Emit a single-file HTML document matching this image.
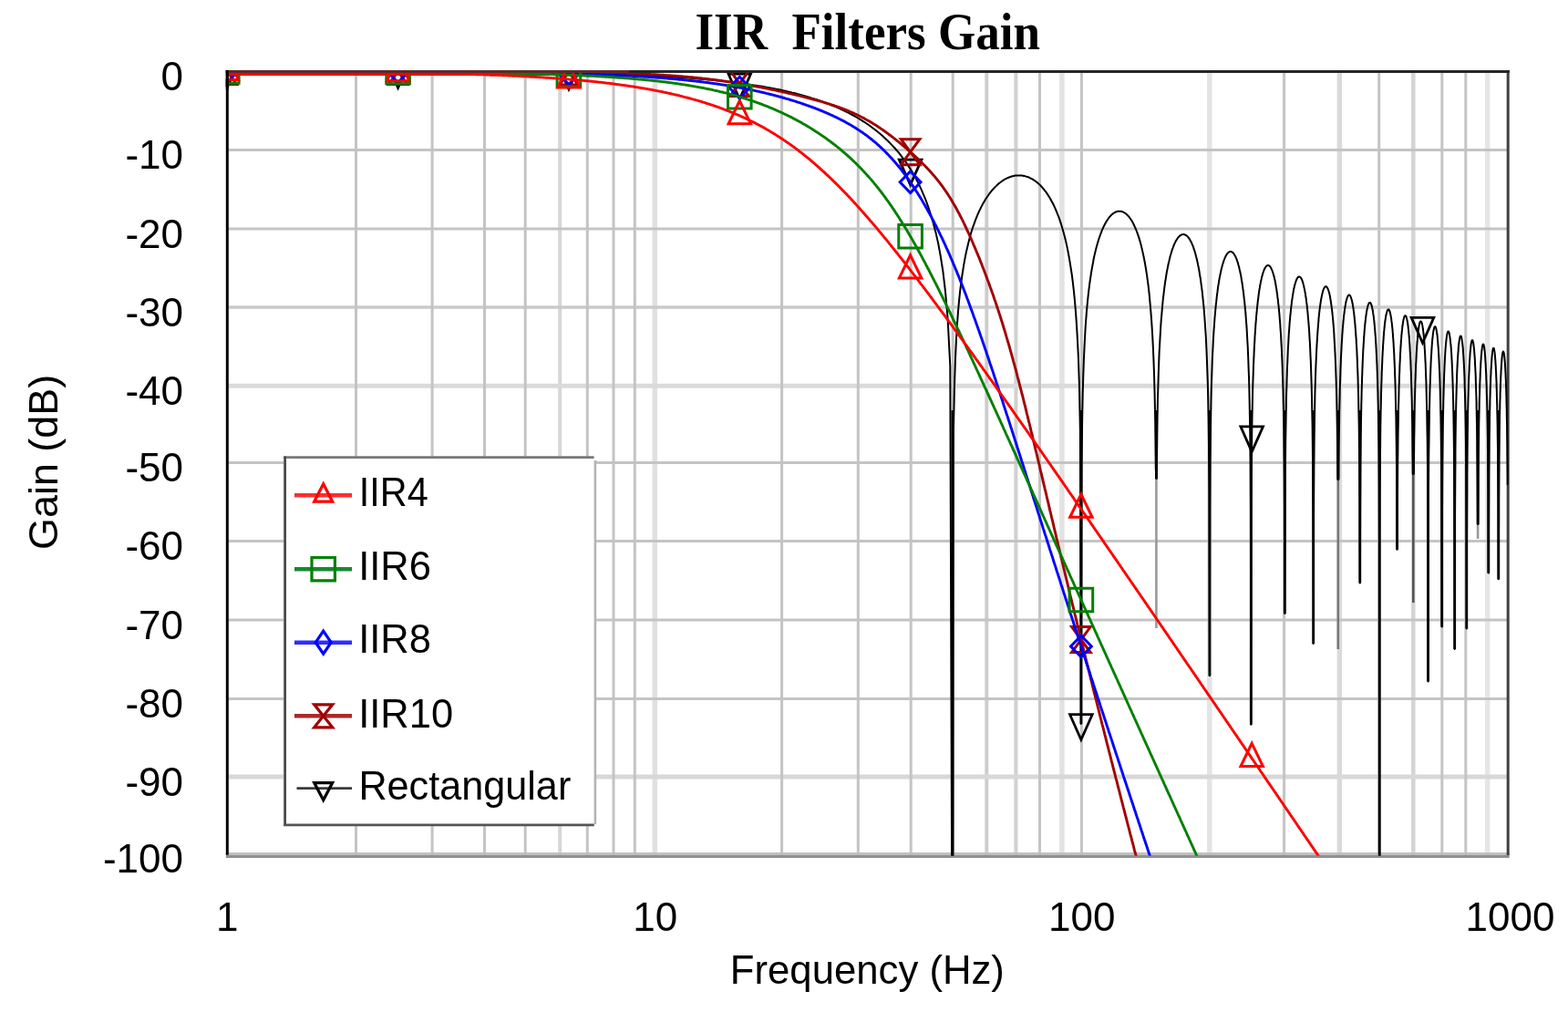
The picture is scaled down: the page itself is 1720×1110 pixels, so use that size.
<!DOCTYPE html>
<html><head><meta charset="utf-8"><title>IIR Filters Gain</title>
<style>
html,body{margin:0;padding:0;background:#fff;}
body{width:1720px;height:1110px;overflow:hidden;}
svg{display:block;}
text{font-family:"Liberation Sans",Arial,sans-serif;font-size:44px;fill:#000;}
.title{font-family:"Liberation Serif","Times New Roman",serif;font-weight:bold;font-size:56px;white-space:pre;}
</style></head><body>
<svg width="1720" height="1110" viewBox="0 0 1720 1110">
<defs><clipPath id="pc"><rect x="247.8" y="76.9" width="1407.9" height="861.5"/></clipPath></defs>
<rect width="1720" height="1110" fill="#fff"/>
<path d="M614.2,78.4 V937.9" stroke="#d6d6d6" stroke-width="4"/>
<path d="M718.3,78.4 V937.9" stroke="#e0e0e0" stroke-width="5.5"/>
<path d="M1082.3,78.4 V937.9" stroke="#cdcdcd" stroke-width="4"/>
<path d="M1114.4,78.4 V937.9" stroke="#d0d0d0" stroke-width="4"/>
<path d="M1164.9,78.4 V937.9" stroke="#e2e2e2" stroke-width="5.5"/>
<path d="M1326.8,78.4 V937.9" stroke="#e4e4e4" stroke-width="5.5"/>
<path d="M1469.4,78.4 V937.9" stroke="#dadada" stroke-width="5.5"/>
<path d="M1550.3,78.4 V937.9" stroke="#d4d4d4" stroke-width="4.5"/>
<path d="M1631.7,78.4 V937.9" stroke="#e6e6e6" stroke-width="5.5"/>
<path d="M249.3,337 H1654.2" stroke="#cacaca" stroke-width="3.6"/>
<path d="M249.3,423.3 H1654.2" stroke="#dadada" stroke-width="5"/>
<path d="M249.3,852.1 H1654.2" stroke="#d8d8d8" stroke-width="5"/>
<path d="M390.5,78.4 V937.9 M474.1,78.4 V937.9 M531.5,78.4 V937.9 M576.2,78.4 V937.9 M644.3,78.4 V937.9 M673,78.4 V937.9 M696.3,78.4 V937.9 M857.6,78.4 V937.9 M941.3,78.4 V937.9 M999.2,78.4 V937.9 M1045.2,78.4 V937.9 M1140.5,78.4 V937.9 M1186.4,78.4 V937.9 M1408.6,78.4 V937.9 M1512.7,78.4 V937.9 M1581.8,78.4 V937.9 M1607.8,78.4 V937.9 M249.3,164.5 H1654.2 M249.3,250.9 H1654.2 M249.3,507.4 H1654.2 M249.3,593.6 H1654.2 M249.3,680.1 H1654.2 M249.3,766.4 H1654.2" stroke="#c4c4c4" stroke-width="3" fill="none"/>
<path d="M247.8,936.4 H1655.7" stroke="#c0c0c0" stroke-width="2.8"/>
<path d="M247.8,939.3 H1655.7" stroke="#909090" stroke-width="3.2"/>
<path d="M1654.2,76.9 V937.9" stroke="#404040" stroke-width="3"/>
<path d="M247.8,78.4 H1655.7" stroke="#262626" stroke-width="3"/>
<path d="M249.3,76.9 V937.7" stroke="#000" stroke-width="3"/>
<g clip-path="url(#pc)" fill="none" stroke-linejoin="round">
<path d="M1044.9,450 V939.9" stroke="#000" stroke-width="2.8"/>
<path d="M1185.9,450 V793.9" stroke="#000" stroke-width="2.8"/>
<path d="M1268.4,450 V525" stroke="#000" stroke-width="2.8"/>
<path d="M1326.9,450 V741.2" stroke="#000" stroke-width="2.8"/>
<path d="M1372.3,450 V794.8" stroke="#000" stroke-width="2.8"/>
<path d="M1409.3,450 V673.1" stroke="#000" stroke-width="2.8"/>
<path d="M1440.7,450 V706" stroke="#000" stroke-width="2.8"/>
<path d="M1467.8,450 V526" stroke="#000" stroke-width="2.8"/>
<path d="M1491.8,450 V639.5" stroke="#000" stroke-width="2.8"/>
<path d="M1513.2,450 V939.9" stroke="#000" stroke-width="2.8"/>
<path d="M1532.6,450 V602.8" stroke="#000" stroke-width="2.8"/>
<path d="M1550.3,450 V520" stroke="#000" stroke-width="2.8"/>
<path d="M1566.6,450 V747.5" stroke="#000" stroke-width="2.8"/>
<path d="M1581.7,450 V687.6" stroke="#000" stroke-width="2.8"/>
<path d="M1595.7,450 V711.9" stroke="#000" stroke-width="2.8"/>
<path d="M1608.8,450 V689.5" stroke="#000" stroke-width="2.8"/>
<path d="M1621.1,450 V575" stroke="#000" stroke-width="2.8"/>
<path d="M1632.8,450 V628.6" stroke="#000" stroke-width="2.8"/>
<path d="M1643.8,450 V635.2" stroke="#000" stroke-width="2.8"/>
<path d="M1268.4,525 V689" stroke="#999" stroke-width="2.6"/>
<path d="M1467.8,526 V712" stroke="#777" stroke-width="2.6"/>
<path d="M1550.3,520 V661" stroke="#555" stroke-width="2.6"/>
<path d="M1621.1,575 V591" stroke="#999" stroke-width="2.6"/>
<path d="M249.3,78.4 L252,78.5 L254.6,78.5 L257.3,78.5 L259.9,78.5 L262.6,78.5 L265.3,78.5 L267.9,78.5 L270.6,78.5 L273.2,78.5 L275.9,78.5 L278.6,78.5 L281.2,78.5 L283.9,78.5 L286.6,78.5 L289.2,78.5 L291.9,78.5 L294.5,78.5 L297.2,78.5 L299.9,78.5 L302.5,78.5 L305.2,78.5 L307.8,78.5 L310.5,78.5 L313.2,78.5 L315.8,78.5 L318.5,78.5 L321.1,78.5 L323.8,78.5 L326.5,78.5 L329.1,78.5 L331.8,78.5 L334.5,78.5 L337.1,78.5 L339.8,78.5 L342.4,78.5 L345.1,78.5 L347.8,78.5 L350.4,78.5 L353.1,78.5 L355.7,78.5 L358.4,78.5 L361.1,78.5 L363.7,78.6 L366.4,78.6 L369,78.6 L371.7,78.6 L374.4,78.6 L377,78.6 L379.7,78.6 L382.3,78.6 L385,78.6 L387.7,78.6 L390.3,78.6 L393,78.6 L395.7,78.6 L398.3,78.6 L401,78.6 L403.6,78.6 L406.3,78.6 L409,78.6 L411.6,78.6 L414.3,78.6 L416.9,78.7 L419.6,78.7 L422.3,78.7 L424.9,78.7 L427.6,78.7 L430.2,78.7 L432.9,78.7 L435.6,78.7 L438.2,78.7 L440.9,78.7 L443.6,78.7 L446.2,78.7 L448.9,78.7 L451.5,78.8 L454.2,78.8 L456.9,78.8 L459.5,78.8 L462.2,78.8 L464.8,78.8 L467.5,78.8 L470.2,78.8 L472.8,78.8 L475.5,78.9 L478.1,78.9 L480.8,78.9 L483.5,78.9 L486.1,78.9 L488.8,78.9 L491.4,78.9 L494.1,78.9 L496.8,79 L499.4,79 L502.1,79 L504.8,79 L507.4,79 L510.1,79 L512.7,79.1 L515.4,79.1 L518.1,79.1 L520.7,79.1 L523.4,79.1 L526,79.1 L528.7,79.2 L531.4,79.2 L534,79.2 L536.7,79.2 L539.3,79.3 L542,79.3 L544.7,79.3 L547.3,79.3 L550,79.3 L552.6,79.4 L555.3,79.4 L558,79.4 L560.6,79.5 L563.3,79.5 L566,79.5 L568.6,79.5 L571.3,79.6 L573.9,79.6 L576.6,79.6 L579.3,79.7 L581.9,79.7 L584.6,79.7 L587.2,79.8 L589.9,79.8 L592.6,79.8 L595.2,79.9 L597.9,79.9 L600.5,80 L603.2,80 L605.9,80 L608.5,80.1 L611.2,80.1 L613.9,80.2 L616.5,80.2 L619.2,80.3 L621.8,80.3 L624.5,80.4 L627.2,80.4 L629.8,80.5 L632.5,80.5 L635.1,80.6 L637.8,80.7 L640.5,80.7 L643.1,80.8 L645.8,80.8 L648.4,80.9 L651.1,81 L653.8,81 L656.4,81.1 L659.1,81.2 L661.7,81.3 L664.4,81.3 L667.1,81.4 L669.7,81.5 L672.4,81.6 L675.1,81.7 L677.7,81.7 L680.4,81.8 L683,81.9 L685.7,82 L688.4,82.1 L691,82.2 L693.7,82.3 L696.3,82.4 L699,82.5 L701.7,82.6 L704.3,82.8 L707,82.9 L709.6,83 L712.3,83.1 L715,83.2 L717.6,83.4 L720.3,83.5 L723,83.7 L725.6,83.8 L728.3,83.9 L730.9,84.1 L733.6,84.2 L736.3,84.4 L738.9,84.6 L741.6,84.7 L744.2,84.9 L746.9,85.1 L749.6,85.3 L752.2,85.4 L754.9,85.6 L757.5,85.8 L760.2,86 L762.9,86.2 L765.5,86.4 L768.2,86.7 L770.8,86.9 L773.5,87.1 L776.2,87.4 L778.8,87.6 L781.5,87.8 L784.2,88.1 L786.8,88.4 L789.5,88.6 L792.1,88.9 L794.8,89.2 L797.5,89.5 L800.1,89.8 L802.8,90.1 L805.4,90.4 L808.1,90.8 L810.8,91.1 L813.4,91.5 L816.1,91.8 L818.7,92.2 L821.4,92.6 L824.1,93 L826.7,93.4 L829.4,93.8 L832.1,94.2 L834.7,94.6 L837.4,95.1 L840,95.6 L842.7,96 L845.4,96.5 L848,97 L850.7,97.6 L853.3,98.1 L856,98.6 L858.7,99.2 L861.3,99.8 L864,100.4 L866.6,101 L869.3,101.7 L872,102.3 L874.6,103 L877.3,103.7 L879.9,104.4 L882.6,105.2 L885.3,106 L887.9,106.8 L890.6,107.6 L893.3,108.4 L895.9,109.3 L898.6,110.2 L901.2,111.1 L903.9,112.1 L906.6,113.1 L909.2,114.1 L911.9,115.2 L914.5,116.3 L917.2,117.4 L919.9,118.6 L922.5,119.8 L925.2,121 L927.8,122.3 L930.5,123.7 L933.2,125.1 L935.8,126.5 L938.5,128 L941.2,129.5 L943.8,131.1 L946.5,132.8 L949.1,134.5 L951.8,136.3 L954.5,138.2 L957.1,140.2 L959.8,142.2 L962.4,144.3 L965.1,146.5 L967.8,148.8 L970.4,151.2 L973.1,153.7 L975.7,156.3 L978.4,159.1 L981.1,162 L983.7,165 L986.4,168.2 L989,171.6 L991.7,175.1 L994.4,178.9 L997,182.9 L999.7,187.1 L1002.4,191.6 L1005,196.5 L1007.7,201.6 L1010.3,207.2 L1013,213.3 L1015.7,219.9 L1018.3,227.2 L1021,235.2 L1023.6,244.2 L1026.3,254.4 L1029,266.1 L1031.6,280 L1034.3,297 L1036.9,318.8 L1039.6,349.5 L1042.3,401.7 L1044.9,1195.8 L1044.9,1195.8 L1045.9,474.3 L1047,422.8 L1048,392.7 L1049,371.4 L1050,355 L1051,341.6 L1052,330.3 L1053,320.6 L1054.1,312 L1055.1,304.4 L1056.1,297.6 L1057.1,291.3 L1058.1,285.6 L1059.1,280.4 L1060.1,275.5 L1061.2,271 L1062.2,266.7 L1063.2,262.8 L1064.2,259.1 L1065.2,255.5 L1066.2,252.2 L1067.2,249.1 L1068.3,246.1 L1069.3,243.3 L1070.3,240.6 L1071.3,238.1 L1072.3,235.6 L1073.3,233.3 L1074.3,231.1 L1075.4,229 L1076.4,226.9 L1077.4,225 L1078.4,223.1 L1079.4,221.4 L1080.4,219.7 L1081.4,218 L1082.5,216.5 L1083.5,215 L1084.5,213.5 L1085.5,212.2 L1086.5,210.8 L1087.5,209.6 L1088.5,208.4 L1089.6,207.2 L1090.6,206.1 L1091.6,205.1 L1092.6,204.1 L1093.6,203.1 L1094.6,202.2 L1095.6,201.3 L1096.7,200.5 L1097.7,199.7 L1098.7,199 L1099.7,198.3 L1100.7,197.6 L1101.7,197 L1102.7,196.4 L1103.8,195.9 L1104.8,195.4 L1105.8,195 L1106.8,194.5 L1107.8,194.2 L1108.8,193.8 L1109.8,193.5 L1110.8,193.2 L1111.9,193 L1112.9,192.8 L1113.9,192.6 L1114.9,192.5 L1115.9,192.4 L1116.9,192.4 L1117.9,192.4 L1119,192.4 L1120,192.5 L1121,192.6 L1122,192.7 L1123,192.9 L1124,193.1 L1125,193.4 L1126.1,193.7 L1127.1,194 L1128.1,194.4 L1129.1,194.8 L1130.1,195.3 L1131.1,195.8 L1132.1,196.3 L1133.2,196.9 L1134.2,197.6 L1135.2,198.3 L1136.2,199 L1137.2,199.8 L1138.2,200.6 L1139.2,201.5 L1140.3,202.4 L1141.3,203.4 L1142.3,204.5 L1143.3,205.6 L1144.3,206.8 L1145.3,208 L1146.3,209.3 L1147.4,210.7 L1148.4,212.1 L1149.4,213.6 L1150.4,215.2 L1151.4,216.8 L1152.4,218.6 L1153.4,220.4 L1154.5,222.3 L1155.5,224.3 L1156.5,226.4 L1157.5,228.6 L1158.5,231 L1159.5,233.4 L1160.5,236 L1161.6,238.7 L1162.6,241.6 L1163.6,244.6 L1164.6,247.8 L1165.6,251.2 L1166.6,254.8 L1167.6,258.6 L1168.7,262.7 L1169.7,267.1 L1170.7,271.7 L1171.7,276.8 L1172.7,282.2 L1173.7,288.1 L1174.7,294.5 L1175.8,301.5 L1176.8,309.4 L1177.8,318.2 L1178.8,328.1 L1179.8,339.7 L1180.8,353.4 L1181.8,370.1 L1182.9,391.7 L1183.9,422.1 L1184.9,474 L1185.9,793.9 L1185.9,793.9 L1186.5,514.3 L1187.1,462.7 L1187.7,432.5 L1188.3,411.2 L1188.9,394.7 L1189.5,381.2 L1190.1,369.9 L1190.6,360.1 L1191.2,351.5 L1191.8,343.8 L1192.4,336.9 L1193,330.6 L1193.6,324.8 L1194.2,319.5 L1194.8,314.6 L1195.4,310 L1196,305.8 L1196.6,301.8 L1197.2,298 L1197.8,294.5 L1198.4,291.1 L1199,288 L1199.5,285 L1200.1,282.1 L1200.7,279.4 L1201.3,276.8 L1201.9,274.4 L1202.5,272 L1203.1,269.8 L1203.7,267.7 L1204.3,265.6 L1204.9,263.7 L1205.5,261.8 L1206.1,260 L1206.7,258.3 L1207.3,256.7 L1207.9,255.1 L1208.4,253.6 L1209,252.2 L1209.6,250.8 L1210.2,249.5 L1210.8,248.2 L1211.4,247 L1212,245.9 L1212.6,244.8 L1213.2,243.7 L1213.8,242.7 L1214.4,241.8 L1215,240.9 L1215.6,240 L1216.2,239.2 L1216.7,238.5 L1217.3,237.7 L1217.9,237.1 L1218.5,236.4 L1219.1,235.8 L1219.7,235.3 L1220.3,234.8 L1220.9,234.3 L1221.5,233.9 L1222.1,233.5 L1222.7,233.1 L1223.3,232.8 L1223.9,232.5 L1224.5,232.3 L1225.1,232.1 L1225.6,231.9 L1226.2,231.8 L1226.8,231.7 L1227.4,231.7 L1228,231.7 L1228.6,231.7 L1229.2,231.7 L1229.8,231.8 L1230.4,232 L1231,232.2 L1231.6,232.4 L1232.2,232.6 L1232.8,232.9 L1233.4,233.3 L1234,233.6 L1234.5,234.1 L1235.1,234.5 L1235.7,235 L1236.3,235.6 L1236.9,236.2 L1237.5,236.8 L1238.1,237.5 L1238.7,238.2 L1239.3,239 L1239.9,239.8 L1240.5,240.7 L1241.1,241.6 L1241.7,242.6 L1242.3,243.6 L1242.9,244.7 L1243.4,245.8 L1244,247 L1244.6,248.3 L1245.2,249.6 L1245.8,251 L1246.4,252.5 L1247,254 L1247.6,255.6 L1248.2,257.3 L1248.8,259.1 L1249.4,260.9 L1250,262.9 L1250.6,264.9 L1251.2,267 L1251.8,269.3 L1252.3,271.6 L1252.9,274.1 L1253.5,276.7 L1254.1,279.4 L1254.7,282.3 L1255.3,285.3 L1255.9,288.5 L1256.5,291.9 L1257.1,295.5 L1257.7,299.3 L1258.3,303.4 L1258.9,307.8 L1259.5,312.4 L1260.1,317.4 L1260.7,322.8 L1261.2,328.7 L1261.8,335.1 L1262.4,342.1 L1263,349.9 L1263.6,358.7 L1264.2,368.6 L1264.8,380.1 L1265.4,393.7 L1266,410.4 L1266.6,431.9 L1267.2,462.2 L1267.8,514.1 L1268.4,525 L1268.4,525 L1268.8,525 L1269.2,488.2 L1269.6,458.1 L1270,436.7 L1270.5,420.1 L1270.9,406.7 L1271.3,395.3 L1271.7,385.5 L1272.2,376.8 L1272.6,369.2 L1273,362.2 L1273.4,355.9 L1273.8,350.1 L1274.3,344.8 L1274.7,339.9 L1275.1,335.3 L1275.5,331 L1275.9,327 L1276.4,323.2 L1276.8,319.7 L1277.2,316.3 L1277.6,313.1 L1278,310.1 L1278.5,307.3 L1278.9,304.6 L1279.3,302 L1279.7,299.5 L1280.1,297.2 L1280.6,294.9 L1281,292.8 L1281.4,290.7 L1281.8,288.8 L1282.3,286.9 L1282.7,285.1 L1283.1,283.4 L1283.5,281.8 L1283.9,280.2 L1284.4,278.7 L1284.8,277.3 L1285.2,275.9 L1285.6,274.6 L1286,273.3 L1286.5,272.1 L1286.9,271 L1287.3,269.9 L1287.7,268.9 L1288.1,267.9 L1288.6,266.9 L1289,266.1 L1289.4,265.2 L1289.8,264.4 L1290.3,263.7 L1290.7,262.9 L1291.1,262.3 L1291.5,261.7 L1291.9,261.1 L1292.4,260.5 L1292.8,260 L1293.2,259.6 L1293.6,259.2 L1294,258.8 L1294.5,258.4 L1294.9,258.1 L1295.3,257.9 L1295.7,257.6 L1296.1,257.4 L1296.6,257.3 L1297,257.2 L1297.4,257.1 L1297.8,257.1 L1298.2,257.1 L1298.7,257.1 L1299.1,257.2 L1299.5,257.3 L1299.9,257.5 L1300.4,257.7 L1300.8,257.9 L1301.2,258.2 L1301.6,258.5 L1302,258.8 L1302.5,259.2 L1302.9,259.7 L1303.3,260.1 L1303.7,260.7 L1304.1,261.2 L1304.6,261.8 L1305,262.5 L1305.4,263.2 L1305.8,263.9 L1306.2,264.7 L1306.7,265.5 L1307.1,266.4 L1307.5,267.4 L1307.9,268.3 L1308.4,269.4 L1308.8,270.5 L1309.2,271.6 L1309.6,272.9 L1310,274.1 L1310.5,275.5 L1310.9,276.9 L1311.3,278.3 L1311.7,279.9 L1312.1,281.5 L1312.6,283.2 L1313,285 L1313.4,286.8 L1313.8,288.8 L1314.2,290.8 L1314.7,293 L1315.1,295.2 L1315.5,297.5 L1315.9,300 L1316.3,302.6 L1316.8,305.3 L1317.2,308.2 L1317.6,311.3 L1318,314.5 L1318.5,317.9 L1318.9,321.5 L1319.3,325.3 L1319.7,329.3 L1320.1,333.7 L1320.6,338.3 L1321,343.3 L1321.4,348.7 L1321.8,354.5 L1322.2,360.9 L1322.7,367.9 L1323.1,375.7 L1323.5,384.5 L1323.9,394.4 L1324.3,405.9 L1324.8,419.5 L1325.2,436.1 L1325.6,457.6 L1326,487.9 L1326.5,539.7 L1326.9,741.2 L1326.9,741.2 L1327.2,558.8 L1327.5,507.2 L1327.9,477 L1328.2,455.6 L1328.5,439 L1328.8,425.5 L1329.2,414.2 L1329.5,404.3 L1329.8,395.7 L1330.1,388 L1330.5,381 L1330.8,374.7 L1331.1,368.9 L1331.4,363.6 L1331.8,358.7 L1332.1,354.1 L1332.4,349.8 L1332.7,345.8 L1333.1,342 L1333.4,338.4 L1333.7,335.1 L1334.1,331.9 L1334.4,328.9 L1334.7,326 L1335,323.3 L1335.4,320.7 L1335.7,318.2 L1336,315.9 L1336.3,313.6 L1336.7,311.5 L1337,309.4 L1337.3,307.5 L1337.6,305.6 L1338,303.8 L1338.3,302.1 L1338.6,300.5 L1339,298.9 L1339.3,297.4 L1339.6,296 L1339.9,294.6 L1340.3,293.3 L1340.6,292 L1340.9,290.9 L1341.2,289.7 L1341.6,288.6 L1341.9,287.6 L1342.2,286.6 L1342.5,285.7 L1342.9,284.8 L1343.2,284 L1343.5,283.2 L1343.9,282.4 L1344.2,281.7 L1344.5,281 L1344.8,280.4 L1345.2,279.9 L1345.5,279.3 L1345.8,278.8 L1346.1,278.4 L1346.5,278 L1346.8,277.6 L1347.1,277.3 L1347.4,277 L1347.8,276.7 L1348.1,276.5 L1348.4,276.3 L1348.7,276.2 L1349.1,276.1 L1349.4,276 L1349.7,276 L1350.1,276 L1350.4,276 L1350.7,276.1 L1351,276.2 L1351.4,276.4 L1351.7,276.6 L1352,276.8 L1352.3,277.1 L1352.7,277.4 L1353,277.8 L1353.3,278.2 L1353.6,278.6 L1354,279.1 L1354.3,279.7 L1354.6,280.2 L1355,280.8 L1355.3,281.5 L1355.6,282.2 L1355.9,282.9 L1356.3,283.7 L1356.6,284.6 L1356.9,285.5 L1357.2,286.4 L1357.6,287.4 L1357.9,288.5 L1358.2,289.6 L1358.5,290.7 L1358.9,292 L1359.2,293.2 L1359.5,294.6 L1359.8,296 L1360.2,297.5 L1360.5,299 L1360.8,300.6 L1361.2,302.3 L1361.5,304.1 L1361.8,306 L1362.1,307.9 L1362.5,310 L1362.8,312.1 L1363.1,314.3 L1363.4,316.7 L1363.8,319.2 L1364.1,321.8 L1364.4,324.5 L1364.7,327.4 L1365.1,330.4 L1365.4,333.6 L1365.7,337 L1366.1,340.6 L1366.4,344.4 L1366.7,348.5 L1367,352.8 L1367.4,357.4 L1367.7,362.4 L1368,367.8 L1368.3,373.7 L1368.7,380 L1369,387 L1369.3,394.8 L1369.6,403.5 L1370,413.5 L1370.3,424.9 L1370.6,438.5 L1370.9,455.2 L1371.3,476.6 L1371.6,506.9 L1371.9,558.7 L1372.3,794.8 L1372.3,794.8 L1372.5,573.9 L1372.8,522.2 L1373.1,492 L1373.3,470.6 L1373.6,454.1 L1373.9,440.6 L1374.1,429.2 L1374.4,419.3 L1374.7,410.7 L1374.9,403 L1375.2,396 L1375.5,389.7 L1375.7,383.9 L1376,378.6 L1376.3,373.6 L1376.5,369 L1376.8,364.7 L1377.1,360.7 L1377.3,356.9 L1377.6,353.4 L1377.9,350 L1378.1,346.8 L1378.4,343.8 L1378.7,340.9 L1378.9,338.2 L1379.2,335.6 L1379.5,333.1 L1379.7,330.8 L1380,328.5 L1380.3,326.4 L1380.5,324.4 L1380.8,322.4 L1381.1,320.5 L1381.3,318.7 L1381.6,317 L1381.9,315.4 L1382.1,313.8 L1382.4,312.3 L1382.7,310.9 L1382.9,309.5 L1383.2,308.2 L1383.5,307 L1383.7,305.8 L1384,304.7 L1384.3,303.6 L1384.5,302.5 L1384.8,301.6 L1385.1,300.6 L1385.3,299.7 L1385.6,298.9 L1385.9,298.1 L1386.1,297.4 L1386.4,296.7 L1386.7,296 L1386.9,295.4 L1387.2,294.8 L1387.5,294.3 L1387.7,293.8 L1388,293.4 L1388.3,293 L1388.5,292.6 L1388.8,292.3 L1389.1,292 L1389.3,291.7 L1389.6,291.5 L1389.9,291.3 L1390.1,291.2 L1390.4,291.1 L1390.7,291 L1390.9,291 L1391.2,291 L1391.5,291.1 L1391.7,291.2 L1392,291.3 L1392.3,291.5 L1392.5,291.7 L1392.8,291.9 L1393.1,292.2 L1393.3,292.5 L1393.6,292.9 L1393.9,293.3 L1394.1,293.7 L1394.4,294.2 L1394.7,294.8 L1394.9,295.3 L1395.2,296 L1395.5,296.6 L1395.7,297.3 L1396,298.1 L1396.3,298.9 L1396.5,299.7 L1396.8,300.6 L1397.1,301.6 L1397.3,302.6 L1397.6,303.6 L1397.9,304.7 L1398.1,305.9 L1398.4,307.1 L1398.7,308.4 L1398.9,309.8 L1399.2,311.2 L1399.5,312.7 L1399.7,314.2 L1400,315.8 L1400.3,317.5 L1400.5,319.3 L1400.8,321.2 L1401.1,323.1 L1401.3,325.2 L1401.6,327.3 L1401.9,329.5 L1402.1,331.9 L1402.4,334.4 L1402.7,337 L1402.9,339.7 L1403.2,342.6 L1403.5,345.6 L1403.7,348.8 L1404,352.2 L1404.3,355.8 L1404.5,359.6 L1404.8,363.7 L1405.1,368 L1405.3,372.6 L1405.6,377.6 L1405.9,383 L1406.1,388.8 L1406.4,395.2 L1406.7,402.2 L1406.9,410 L1407.2,418.7 L1407.5,428.6 L1407.7,440.1 L1408,453.6 L1408.3,470.3 L1408.5,491.8 L1408.8,522 L1409.1,573.8 L1409.3,673.1 L1409.3,673.1 L1409.6,586.4 L1409.8,534.7 L1410,504.5 L1410.2,483.1 L1410.5,466.6 L1410.7,453.1 L1410.9,441.7 L1411.1,431.8 L1411.4,423.2 L1411.6,415.4 L1411.8,408.5 L1412,402.2 L1412.3,396.4 L1412.5,391 L1412.7,386.1 L1412.9,381.5 L1413.2,377.2 L1413.4,373.1 L1413.6,369.4 L1413.8,365.8 L1414.1,362.4 L1414.3,359.2 L1414.5,356.2 L1414.7,353.4 L1415,350.6 L1415.2,348 L1415.4,345.6 L1415.7,343.2 L1415.9,341 L1416.1,338.8 L1416.3,336.8 L1416.6,334.8 L1416.8,333 L1417,331.2 L1417.2,329.5 L1417.5,327.8 L1417.7,326.3 L1417.9,324.8 L1418.1,323.3 L1418.4,322 L1418.6,320.7 L1418.8,319.4 L1419,318.2 L1419.3,317.1 L1419.5,316 L1419.7,315 L1419.9,314 L1420.2,313.1 L1420.4,312.2 L1420.6,311.4 L1420.8,310.6 L1421.1,309.8 L1421.3,309.1 L1421.5,308.5 L1421.7,307.9 L1422,307.3 L1422.2,306.8 L1422.4,306.3 L1422.6,305.8 L1422.9,305.4 L1423.1,305.1 L1423.3,304.7 L1423.5,304.4 L1423.8,304.2 L1424,304 L1424.2,303.8 L1424.4,303.7 L1424.7,303.6 L1424.9,303.5 L1425.1,303.5 L1425.3,303.5 L1425.6,303.6 L1425.8,303.7 L1426,303.8 L1426.3,304 L1426.5,304.2 L1426.7,304.4 L1426.9,304.7 L1427.2,305.1 L1427.4,305.4 L1427.6,305.8 L1427.8,306.3 L1428.1,306.8 L1428.3,307.3 L1428.5,307.9 L1428.7,308.5 L1429,309.2 L1429.2,309.9 L1429.4,310.7 L1429.6,311.5 L1429.9,312.3 L1430.1,313.2 L1430.3,314.2 L1430.5,315.2 L1430.8,316.2 L1431,317.3 L1431.2,318.5 L1431.4,319.7 L1431.7,321 L1431.9,322.4 L1432.1,323.8 L1432.3,325.3 L1432.6,326.8 L1432.8,328.4 L1433,330.1 L1433.2,331.9 L1433.5,333.8 L1433.7,335.7 L1433.9,337.8 L1434.1,339.9 L1434.4,342.2 L1434.6,344.5 L1434.8,347 L1435,349.6 L1435.3,352.3 L1435.5,355.2 L1435.7,358.2 L1436,361.4 L1436.2,364.8 L1436.4,368.4 L1436.6,372.2 L1436.9,376.3 L1437.1,380.6 L1437.3,385.2 L1437.5,390.2 L1437.8,395.6 L1438,401.4 L1438.2,407.8 L1438.4,414.8 L1438.7,422.6 L1438.9,431.3 L1439.1,441.2 L1439.3,452.6 L1439.6,466.2 L1439.8,482.8 L1440,504.3 L1440.2,534.6 L1440.5,586.3 L1440.7,706 L1440.7,706 L1440.9,597.1 L1441.1,545.4 L1441.3,515.2 L1441.5,493.8 L1441.7,477.3 L1441.9,463.7 L1442.1,452.3 L1442.3,442.5 L1442.4,433.8 L1442.6,426.1 L1442.8,419.2 L1443,412.8 L1443.2,407 L1443.4,401.7 L1443.6,396.7 L1443.8,392.1 L1444,387.8 L1444.2,383.8 L1444.4,380 L1444.6,376.4 L1444.8,373.1 L1445,369.9 L1445.2,366.9 L1445.4,364 L1445.6,361.3 L1445.8,358.7 L1446,356.2 L1446.2,353.9 L1446.4,351.6 L1446.5,349.5 L1446.7,347.4 L1446.9,345.5 L1447.1,343.6 L1447.3,341.8 L1447.5,340.1 L1447.7,338.5 L1447.9,336.9 L1448.1,335.4 L1448.3,334 L1448.5,332.6 L1448.7,331.3 L1448.9,330.1 L1449.1,328.9 L1449.3,327.7 L1449.5,326.7 L1449.7,325.6 L1449.9,324.7 L1450.1,323.7 L1450.3,322.8 L1450.5,322 L1450.7,321.2 L1450.8,320.5 L1451,319.8 L1451.2,319.1 L1451.4,318.5 L1451.6,318 L1451.8,317.4 L1452,317 L1452.2,316.5 L1452.4,316.1 L1452.6,315.7 L1452.8,315.4 L1453,315.1 L1453.2,314.9 L1453.4,314.7 L1453.6,314.5 L1453.8,314.4 L1454,314.3 L1454.2,314.2 L1454.4,314.2 L1454.6,314.2 L1454.8,314.3 L1454.9,314.4 L1455.1,314.5 L1455.3,314.7 L1455.5,314.9 L1455.7,315.2 L1455.9,315.5 L1456.1,315.8 L1456.3,316.2 L1456.5,316.6 L1456.7,317 L1456.9,317.5 L1457.1,318.1 L1457.3,318.6 L1457.5,319.3 L1457.7,319.9 L1457.9,320.6 L1458.1,321.4 L1458.3,322.2 L1458.5,323.1 L1458.7,324 L1458.9,324.9 L1459.1,325.9 L1459.2,327 L1459.4,328.1 L1459.6,329.3 L1459.8,330.5 L1460,331.8 L1460.2,333.1 L1460.4,334.6 L1460.6,336 L1460.8,337.6 L1461,339.2 L1461.2,340.9 L1461.4,342.7 L1461.6,344.6 L1461.8,346.5 L1462,348.6 L1462.2,350.7 L1462.4,352.9 L1462.6,355.3 L1462.8,357.8 L1463,360.4 L1463.2,363.1 L1463.4,366 L1463.5,369 L1463.7,372.2 L1463.9,375.6 L1464.1,379.2 L1464.3,383 L1464.5,387 L1464.7,391.4 L1464.9,396 L1465.1,401 L1465.3,406.4 L1465.5,412.2 L1465.7,418.6 L1465.9,425.6 L1466.1,433.3 L1466.3,442 L1466.5,451.9 L1466.7,463.4 L1466.9,476.9 L1467.1,493.6 L1467.3,515 L1467.5,526 L1467.6,526 L1467.8,526 L1467.8,526 L1468,526 L1468.2,526 L1468.4,524.6 L1468.5,503.2 L1468.7,486.6 L1468.9,473.1 L1469.1,461.7 L1469.2,451.8 L1469.4,443.2 L1469.6,435.5 L1469.7,428.5 L1469.9,422.2 L1470.1,416.4 L1470.3,411 L1470.4,406.1 L1470.6,401.5 L1470.8,397.1 L1470.9,393.1 L1471.1,389.3 L1471.3,385.8 L1471.5,382.4 L1471.6,379.2 L1471.8,376.2 L1472,373.3 L1472.2,370.6 L1472.3,368 L1472.5,365.5 L1472.7,363.2 L1472.8,360.9 L1473,358.8 L1473.2,356.7 L1473.4,354.8 L1473.5,352.9 L1473.7,351.1 L1473.9,349.4 L1474,347.8 L1474.2,346.2 L1474.4,344.7 L1474.6,343.3 L1474.7,341.9 L1474.9,340.6 L1475.1,339.4 L1475.3,338.2 L1475.4,337.1 L1475.6,336 L1475.8,334.9 L1475.9,334 L1476.1,333 L1476.3,332.2 L1476.5,331.3 L1476.6,330.6 L1476.8,329.8 L1477,329.1 L1477.2,328.5 L1477.3,327.9 L1477.5,327.3 L1477.7,326.8 L1477.8,326.3 L1478,325.9 L1478.2,325.4 L1478.4,325.1 L1478.5,324.8 L1478.7,324.5 L1478.9,324.2 L1479,324 L1479.2,323.9 L1479.4,323.7 L1479.6,323.6 L1479.7,323.6 L1479.9,323.6 L1480.1,323.6 L1480.3,323.7 L1480.4,323.8 L1480.6,323.9 L1480.8,324.1 L1480.9,324.3 L1481.1,324.5 L1481.3,324.8 L1481.5,325.2 L1481.6,325.5 L1481.8,326 L1482,326.4 L1482.1,326.9 L1482.3,327.5 L1482.5,328 L1482.7,328.7 L1482.8,329.3 L1483,330 L1483.2,330.8 L1483.4,331.6 L1483.5,332.5 L1483.7,333.4 L1483.9,334.3 L1484,335.3 L1484.2,336.4 L1484.4,337.5 L1484.6,338.7 L1484.7,339.9 L1484.9,341.2 L1485.1,342.5 L1485.3,344 L1485.4,345.4 L1485.6,347 L1485.8,348.6 L1485.9,350.3 L1486.1,352.1 L1486.3,354 L1486.5,355.9 L1486.6,358 L1486.8,360.1 L1487,362.4 L1487.1,364.7 L1487.3,367.2 L1487.5,369.8 L1487.7,372.5 L1487.8,375.4 L1488,378.4 L1488.2,381.6 L1488.4,385 L1488.5,388.6 L1488.7,392.4 L1488.9,396.5 L1489,400.8 L1489.2,405.4 L1489.4,410.4 L1489.6,415.8 L1489.7,421.6 L1489.9,428 L1490.1,435 L1490.2,442.7 L1490.4,451.4 L1490.6,461.3 L1490.8,472.8 L1490.9,486.3 L1491.1,503 L1491.3,524.4 L1491.5,554.7 L1491.6,606.4 L1491.8,639.5 L1491.8,639.5 L1492,614.8 L1492.1,563.1 L1492.3,532.9 L1492.4,511.5 L1492.6,494.9 L1492.7,481.4 L1492.9,470 L1493,460.1 L1493.2,451.5 L1493.3,443.7 L1493.5,436.8 L1493.6,430.4 L1493.8,424.6 L1494,419.3 L1494.1,414.3 L1494.3,409.7 L1494.4,405.4 L1494.6,401.4 L1494.7,397.6 L1494.9,394 L1495,390.7 L1495.2,387.5 L1495.3,384.5 L1495.5,381.6 L1495.7,378.9 L1495.8,376.3 L1496,373.8 L1496.1,371.4 L1496.3,369.2 L1496.4,367.1 L1496.6,365 L1496.7,363 L1496.9,361.2 L1497,359.4 L1497.2,357.7 L1497.3,356 L1497.5,354.5 L1497.7,353 L1497.8,351.6 L1498,350.2 L1498.1,348.9 L1498.3,347.6 L1498.4,346.5 L1498.6,345.3 L1498.7,344.3 L1498.9,343.2 L1499,342.3 L1499.2,341.3 L1499.4,340.5 L1499.5,339.6 L1499.7,338.8 L1499.8,338.1 L1500,337.4 L1500.1,336.8 L1500.3,336.2 L1500.4,335.6 L1500.6,335.1 L1500.7,334.6 L1500.9,334.1 L1501,333.7 L1501.2,333.4 L1501.4,333.1 L1501.5,332.8 L1501.7,332.5 L1501.8,332.3 L1502,332.2 L1502.1,332 L1502.3,332 L1502.4,331.9 L1502.6,331.9 L1502.7,331.9 L1502.9,332 L1503.1,332.1 L1503.2,332.2 L1503.4,332.4 L1503.5,332.6 L1503.7,332.9 L1503.8,333.2 L1504,333.5 L1504.1,333.9 L1504.3,334.3 L1504.4,334.7 L1504.6,335.2 L1504.7,335.8 L1504.9,336.4 L1505.1,337 L1505.2,337.7 L1505.4,338.4 L1505.5,339.1 L1505.7,340 L1505.8,340.8 L1506,341.7 L1506.1,342.7 L1506.3,343.7 L1506.4,344.7 L1506.6,345.9 L1506.8,347 L1506.9,348.3 L1507.1,349.6 L1507.2,350.9 L1507.4,352.3 L1507.5,353.8 L1507.7,355.4 L1507.8,357 L1508,358.7 L1508.1,360.5 L1508.3,362.3 L1508.4,364.3 L1508.6,366.3 L1508.8,368.5 L1508.9,370.7 L1509.1,373.1 L1509.2,375.6 L1509.4,378.1 L1509.5,380.9 L1509.7,383.8 L1509.8,386.8 L1510,390 L1510.1,393.4 L1510.3,397 L1510.5,400.8 L1510.6,404.8 L1510.8,409.1 L1510.9,413.8 L1511.1,418.7 L1511.2,424.1 L1511.4,429.9 L1511.5,436.3 L1511.7,443.3 L1511.8,451.1 L1512,459.8 L1512.1,469.7 L1512.3,481.1 L1512.5,494.7 L1512.6,511.3 L1512.8,532.7 L1512.9,563 L1513.1,614.8 L1513.2,1195.8 L1513.2,1195.8 L1513.4,622.3 L1513.5,570.6 L1513.6,540.4 L1513.8,519 L1513.9,502.4 L1514.1,488.9 L1514.2,477.5 L1514.3,467.6 L1514.5,458.9 L1514.6,451.2 L1514.8,444.2 L1514.9,437.9 L1515,432.1 L1515.2,426.8 L1515.3,421.8 L1515.5,417.2 L1515.6,412.9 L1515.7,408.9 L1515.9,405.1 L1516,401.5 L1516.2,398.1 L1516.3,394.9 L1516.4,391.9 L1516.6,389 L1516.7,386.3 L1516.9,383.7 L1517,381.2 L1517.1,378.9 L1517.3,376.6 L1517.4,374.5 L1517.6,372.5 L1517.7,370.5 L1517.8,368.6 L1518,366.8 L1518.1,365.1 L1518.2,363.5 L1518.4,361.9 L1518.5,360.4 L1518.7,359 L1518.8,357.6 L1518.9,356.3 L1519.1,355.1 L1519.2,353.9 L1519.4,352.8 L1519.5,351.7 L1519.6,350.7 L1519.8,349.7 L1519.9,348.8 L1520.1,347.9 L1520.2,347.1 L1520.3,346.3 L1520.5,345.6 L1520.6,344.9 L1520.8,344.2 L1520.9,343.6 L1521,343.1 L1521.2,342.5 L1521.3,342.1 L1521.5,341.6 L1521.6,341.2 L1521.7,340.9 L1521.9,340.5 L1522,340.3 L1522.2,340 L1522.3,339.8 L1522.4,339.6 L1522.6,339.5 L1522.7,339.4 L1522.9,339.4 L1523,339.4 L1523.1,339.4 L1523.3,339.5 L1523.4,339.6 L1523.5,339.7 L1523.7,339.9 L1523.8,340.1 L1524,340.4 L1524.1,340.7 L1524.2,341 L1524.4,341.4 L1524.5,341.8 L1524.7,342.2 L1524.8,342.7 L1524.9,343.3 L1525.1,343.9 L1525.2,344.5 L1525.4,345.2 L1525.5,345.9 L1525.6,346.6 L1525.8,347.5 L1525.9,348.3 L1526.1,349.2 L1526.2,350.2 L1526.3,351.2 L1526.5,352.3 L1526.6,353.4 L1526.8,354.5 L1526.9,355.8 L1527,357.1 L1527.2,358.4 L1527.3,359.8 L1527.5,361.3 L1527.6,362.9 L1527.7,364.5 L1527.9,366.2 L1528,368 L1528.1,369.8 L1528.3,371.8 L1528.4,373.8 L1528.6,376 L1528.7,378.2 L1528.8,380.6 L1529,383.1 L1529.1,385.7 L1529.3,388.4 L1529.4,391.3 L1529.5,394.3 L1529.7,397.5 L1529.8,400.9 L1530,404.5 L1530.1,408.3 L1530.2,412.3 L1530.4,416.6 L1530.5,421.3 L1530.7,426.3 L1530.8,431.6 L1530.9,437.5 L1531.1,443.8 L1531.2,450.8 L1531.4,458.6 L1531.5,467.3 L1531.6,477.2 L1531.8,488.6 L1531.9,502.2 L1532.1,518.8 L1532.2,540.2 L1532.3,570.5 L1532.5,602.8 L1532.6,602.8 L1532.6,602.8 L1532.7,602.8 L1532.9,577.4 L1533,547.2 L1533.1,525.8 L1533.2,509.2 L1533.4,495.7 L1533.5,484.2 L1533.6,474.4 L1533.8,465.7 L1533.9,458 L1534,451 L1534.1,444.7 L1534.3,438.9 L1534.4,433.5 L1534.5,428.6 L1534.6,424 L1534.8,419.7 L1534.9,415.6 L1535,411.8 L1535.2,408.3 L1535.3,404.9 L1535.4,401.7 L1535.5,398.7 L1535.7,395.8 L1535.8,393.1 L1535.9,390.5 L1536,388 L1536.2,385.7 L1536.3,383.4 L1536.4,381.3 L1536.6,379.2 L1536.7,377.3 L1536.8,375.4 L1536.9,373.6 L1537.1,371.9 L1537.2,370.3 L1537.3,368.7 L1537.4,367.2 L1537.6,365.8 L1537.7,364.4 L1537.8,363.1 L1538,361.9 L1538.1,360.7 L1538.2,359.6 L1538.3,358.5 L1538.5,357.5 L1538.6,356.5 L1538.7,355.6 L1538.9,354.7 L1539,353.9 L1539.1,353.1 L1539.2,352.3 L1539.4,351.7 L1539.5,351 L1539.6,350.4 L1539.7,349.8 L1539.9,349.3 L1540,348.8 L1540.1,348.4 L1540.3,348 L1540.4,347.6 L1540.5,347.3 L1540.6,347 L1540.8,346.8 L1540.9,346.6 L1541,346.4 L1541.1,346.3 L1541.3,346.2 L1541.4,346.2 L1541.5,346.2 L1541.7,346.2 L1541.8,346.3 L1541.9,346.4 L1542,346.5 L1542.2,346.7 L1542.3,346.9 L1542.4,347.2 L1542.5,347.5 L1542.7,347.8 L1542.8,348.2 L1542.9,348.6 L1543.1,349.1 L1543.2,349.6 L1543.3,350.1 L1543.4,350.7 L1543.6,351.3 L1543.7,352 L1543.8,352.7 L1543.9,353.5 L1544.1,354.3 L1544.2,355.1 L1544.3,356 L1544.5,357 L1544.6,358 L1544.7,359.1 L1544.8,360.2 L1545,361.4 L1545.1,362.6 L1545.2,363.9 L1545.3,365.2 L1545.5,366.7 L1545.6,368.1 L1545.7,369.7 L1545.9,371.3 L1546,373 L1546.1,374.8 L1546.2,376.7 L1546.4,378.6 L1546.5,380.7 L1546.6,382.8 L1546.7,385.1 L1546.9,387.4 L1547,389.9 L1547.1,392.5 L1547.3,395.2 L1547.4,398.1 L1547.5,401.1 L1547.6,404.3 L1547.8,407.7 L1547.9,411.3 L1548,415.1 L1548.1,419.2 L1548.3,423.5 L1548.4,428.1 L1548.5,433.1 L1548.7,438.4 L1548.8,444.3 L1548.9,450.6 L1549,457.6 L1549.2,465.4 L1549.3,474.1 L1549.4,484 L1549.5,495.4 L1549.7,509 L1549.8,520 L1549.9,520 L1550.1,520 L1550.2,520 L1550.3,520 L1550.3,520 L1550.4,520 L1550.5,520 L1550.7,520 L1550.8,520 L1550.9,515.4 L1551,501.9 L1551.1,490.5 L1551.2,480.6 L1551.4,471.9 L1551.5,464.2 L1551.6,457.2 L1551.7,450.9 L1551.8,445.1 L1551.9,439.7 L1552.1,434.8 L1552.2,430.2 L1552.3,425.9 L1552.4,421.8 L1552.5,418 L1552.7,414.5 L1552.8,411.1 L1552.9,407.9 L1553,404.9 L1553.1,402 L1553.2,399.3 L1553.4,396.7 L1553.5,394.2 L1553.6,391.9 L1553.7,389.6 L1553.8,387.5 L1553.9,385.4 L1554.1,383.5 L1554.2,381.6 L1554.3,379.8 L1554.4,378.1 L1554.5,376.5 L1554.6,374.9 L1554.8,373.4 L1554.9,372 L1555,370.6 L1555.1,369.3 L1555.2,368.1 L1555.3,366.9 L1555.5,365.8 L1555.6,364.7 L1555.7,363.7 L1555.8,362.7 L1555.9,361.8 L1556,360.9 L1556.2,360.1 L1556.3,359.3 L1556.4,358.6 L1556.5,357.9 L1556.6,357.2 L1556.7,356.6 L1556.9,356.1 L1557,355.5 L1557.1,355.1 L1557.2,354.6 L1557.3,354.2 L1557.5,353.9 L1557.6,353.5 L1557.7,353.3 L1557.8,353 L1557.9,352.8 L1558,352.7 L1558.2,352.5 L1558.3,352.5 L1558.4,352.4 L1558.5,352.4 L1558.6,352.4 L1558.7,352.5 L1558.9,352.6 L1559,352.7 L1559.1,352.9 L1559.2,353.1 L1559.3,353.4 L1559.4,353.7 L1559.6,354 L1559.7,354.4 L1559.8,354.8 L1559.9,355.3 L1560,355.8 L1560.1,356.3 L1560.3,356.9 L1560.4,357.6 L1560.5,358.2 L1560.6,358.9 L1560.7,359.7 L1560.8,360.5 L1561,361.4 L1561.1,362.3 L1561.2,363.2 L1561.3,364.3 L1561.4,365.3 L1561.6,366.4 L1561.7,367.6 L1561.8,368.8 L1561.9,370.1 L1562,371.5 L1562.1,372.9 L1562.3,374.4 L1562.4,376 L1562.5,377.6 L1562.6,379.3 L1562.7,381.1 L1562.8,382.9 L1563,384.9 L1563.1,386.9 L1563.2,389.1 L1563.3,391.3 L1563.4,393.7 L1563.5,396.2 L1563.7,398.7 L1563.8,401.5 L1563.9,404.4 L1564,407.4 L1564.1,410.6 L1564.2,414 L1564.4,417.6 L1564.5,421.4 L1564.6,425.4 L1564.7,429.7 L1564.8,434.4 L1564.9,439.3 L1565.1,444.7 L1565.2,450.5 L1565.3,456.9 L1565.4,463.9 L1565.5,471.6 L1565.7,480.3 L1565.8,490.2 L1565.9,501.7 L1566,515.2 L1566.1,531.8 L1566.2,553.3 L1566.4,583.5 L1566.5,635.3 L1566.6,747.5 L1566.6,747.5 L1566.7,641.1 L1566.8,589.4 L1566.9,559.2 L1567,537.7 L1567.1,521.1 L1567.2,507.6 L1567.3,496.2 L1567.5,486.4 L1567.6,477.7 L1567.7,469.9 L1567.8,463 L1567.9,456.6 L1568,450.8 L1568.1,445.5 L1568.2,440.5 L1568.3,435.9 L1568.4,431.6 L1568.5,427.6 L1568.6,423.8 L1568.8,420.2 L1568.9,416.8 L1569,413.6 L1569.1,410.6 L1569.2,407.7 L1569.3,405 L1569.4,402.4 L1569.5,400 L1569.6,397.6 L1569.7,395.4 L1569.8,393.2 L1569.9,391.2 L1570.1,389.2 L1570.2,387.3 L1570.3,385.5 L1570.4,383.8 L1570.5,382.2 L1570.6,380.6 L1570.7,379.1 L1570.8,377.7 L1570.9,376.4 L1571,375.1 L1571.1,373.8 L1571.2,372.6 L1571.4,371.5 L1571.5,370.4 L1571.6,369.4 L1571.7,368.4 L1571.8,367.5 L1571.9,366.6 L1572,365.8 L1572.1,365 L1572.2,364.3 L1572.3,363.6 L1572.4,363 L1572.6,362.4 L1572.7,361.8 L1572.8,361.3 L1572.9,360.8 L1573,360.4 L1573.1,360 L1573.2,359.6 L1573.3,359.3 L1573.4,359 L1573.5,358.8 L1573.6,358.6 L1573.7,358.4 L1573.9,358.3 L1574,358.2 L1574.1,358.2 L1574.2,358.1 L1574.3,358.2 L1574.4,358.2 L1574.5,358.3 L1574.6,358.5 L1574.7,358.7 L1574.8,358.9 L1574.9,359.2 L1575,359.5 L1575.2,359.8 L1575.3,360.2 L1575.4,360.6 L1575.5,361.1 L1575.6,361.6 L1575.7,362.1 L1575.8,362.7 L1575.9,363.3 L1576,364 L1576.1,364.7 L1576.2,365.5 L1576.3,366.3 L1576.5,367.1 L1576.6,368.1 L1576.7,369 L1576.8,370 L1576.9,371.1 L1577,372.2 L1577.1,373.4 L1577.2,374.6 L1577.3,375.9 L1577.4,377.3 L1577.5,378.7 L1577.6,380.2 L1577.8,381.7 L1577.9,383.3 L1578,385.1 L1578.1,386.8 L1578.2,388.7 L1578.3,390.7 L1578.4,392.7 L1578.5,394.8 L1578.6,397.1 L1578.7,399.4 L1578.8,401.9 L1578.9,404.5 L1579.1,407.3 L1579.2,410.1 L1579.3,413.2 L1579.4,416.4 L1579.5,419.7 L1579.6,423.3 L1579.7,427.1 L1579.8,431.2 L1579.9,435.5 L1580,440.1 L1580.1,445.1 L1580.2,450.5 L1580.4,456.3 L1580.5,462.6 L1580.6,469.6 L1580.7,477.4 L1580.8,486.1 L1580.9,496 L1581,507.4 L1581.1,521 L1581.2,537.6 L1581.3,559 L1581.4,589.3 L1581.6,641 L1581.7,687.6 L1581.7,687.6 L1581.8,646.4 L1581.9,594.7 L1582,564.5 L1582.1,543.1 L1582.2,526.5 L1582.3,513 L1582.4,501.5 L1582.5,491.7 L1582.6,483 L1582.7,475.3 L1582.8,468.3 L1582.9,462 L1583,456.2 L1583.1,450.8 L1583.2,445.9 L1583.3,441.2 L1583.4,436.9 L1583.5,432.9 L1583.6,429.1 L1583.7,425.5 L1583.8,422.2 L1583.9,419 L1584,415.9 L1584.1,413.1 L1584.2,410.3 L1584.3,407.7 L1584.4,405.3 L1584.5,402.9 L1584.6,400.7 L1584.7,398.5 L1584.8,396.5 L1584.9,394.5 L1585,392.7 L1585.1,390.9 L1585.2,389.2 L1585.3,387.5 L1585.4,386 L1585.5,384.5 L1585.6,383 L1585.7,381.7 L1585.8,380.4 L1585.9,379.1 L1586,378 L1586.1,376.8 L1586.2,375.7 L1586.3,374.7 L1586.4,373.8 L1586.5,372.8 L1586.6,372 L1586.7,371.1 L1586.8,370.4 L1586.9,369.6 L1587,368.9 L1587.1,368.3 L1587.2,367.7 L1587.3,367.1 L1587.4,366.6 L1587.5,366.1 L1587.6,365.7 L1587.7,365.3 L1587.8,364.9 L1587.9,364.6 L1588,364.3 L1588.1,364.1 L1588.2,363.9 L1588.3,363.7 L1588.4,363.6 L1588.5,363.5 L1588.6,363.5 L1588.7,363.5 L1588.8,363.5 L1588.9,363.6 L1589,363.7 L1589.1,363.8 L1589.2,364 L1589.3,364.2 L1589.4,364.5 L1589.5,364.8 L1589.6,365.1 L1589.7,365.5 L1589.8,365.9 L1589.9,366.4 L1590,366.9 L1590.1,367.4 L1590.2,368 L1590.3,368.7 L1590.4,369.3 L1590.5,370.1 L1590.6,370.8 L1590.7,371.6 L1590.8,372.5 L1590.9,373.4 L1591,374.4 L1591.1,375.4 L1591.2,376.4 L1591.4,377.6 L1591.5,378.7 L1591.6,380 L1591.7,381.3 L1591.8,382.6 L1591.9,384 L1592,385.5 L1592.1,387.1 L1592.2,388.7 L1592.3,390.4 L1592.4,392.2 L1592.5,394.1 L1592.6,396 L1592.7,398.1 L1592.8,400.2 L1592.9,402.4 L1593,404.8 L1593.1,407.3 L1593.2,409.9 L1593.3,412.6 L1593.4,415.5 L1593.5,418.5 L1593.6,421.7 L1593.7,425.1 L1593.8,428.7 L1593.9,432.5 L1594,436.5 L1594.1,440.8 L1594.2,445.5 L1594.3,450.4 L1594.4,455.8 L1594.5,461.6 L1594.6,468 L1594.7,475 L1594.8,482.7 L1594.9,491.4 L1595,501.3 L1595.1,512.8 L1595.2,526.3 L1595.3,542.9 L1595.4,564.4 L1595.5,594.6 L1595.6,646.4 L1595.7,711.9 L1595.7,711.9 L1595.8,651.4 L1595.9,599.7 L1596,569.5 L1596.1,548 L1596.2,531.5 L1596.3,517.9 L1596.4,506.5 L1596.4,496.7 L1596.5,488 L1596.6,480.2 L1596.7,473.3 L1596.8,466.9 L1596.9,461.1 L1597,455.8 L1597.1,450.8 L1597.2,446.2 L1597.3,441.9 L1597.4,437.9 L1597.5,434.1 L1597.6,430.5 L1597.7,427.1 L1597.8,423.9 L1597.9,420.9 L1598,418 L1598.1,415.3 L1598.1,412.7 L1598.2,410.2 L1598.3,407.9 L1598.4,405.6 L1598.5,403.5 L1598.6,401.4 L1598.7,399.5 L1598.8,397.6 L1598.9,395.8 L1599,394.1 L1599.1,392.5 L1599.2,390.9 L1599.3,389.4 L1599.4,388 L1599.5,386.6 L1599.6,385.3 L1599.7,384.1 L1599.8,382.9 L1599.8,381.8 L1599.9,380.7 L1600,379.7 L1600.1,378.7 L1600.2,377.8 L1600.3,376.9 L1600.4,376.1 L1600.5,375.3 L1600.6,374.6 L1600.7,373.9 L1600.8,373.3 L1600.9,372.7 L1601,372.1 L1601.1,371.6 L1601.2,371.1 L1601.3,370.7 L1601.4,370.3 L1601.5,369.9 L1601.5,369.6 L1601.6,369.3 L1601.7,369.1 L1601.8,368.9 L1601.9,368.7 L1602,368.6 L1602.1,368.5 L1602.2,368.5 L1602.3,368.5 L1602.4,368.5 L1602.5,368.6 L1602.6,368.7 L1602.7,368.8 L1602.8,369 L1602.9,369.2 L1603,369.5 L1603.1,369.8 L1603.2,370.1 L1603.2,370.5 L1603.3,370.9 L1603.4,371.4 L1603.5,371.9 L1603.6,372.4 L1603.7,373 L1603.8,373.7 L1603.9,374.3 L1604,375 L1604.1,375.8 L1604.2,376.6 L1604.3,377.5 L1604.4,378.4 L1604.5,379.4 L1604.6,380.4 L1604.7,381.4 L1604.8,382.6 L1604.9,383.7 L1604.9,385 L1605,386.3 L1605.1,387.6 L1605.2,389 L1605.3,390.5 L1605.4,392.1 L1605.5,393.7 L1605.6,395.4 L1605.7,397.2 L1605.8,399.1 L1605.9,401 L1606,403.1 L1606.1,405.2 L1606.2,407.4 L1606.3,409.8 L1606.4,412.3 L1606.5,414.9 L1606.6,417.6 L1606.6,420.5 L1606.7,423.5 L1606.8,426.7 L1606.9,430.1 L1607,433.7 L1607.1,437.5 L1607.2,441.5 L1607.3,445.8 L1607.4,450.5 L1607.5,455.4 L1607.6,460.8 L1607.7,466.6 L1607.8,473 L1607.9,480 L1608,487.7 L1608.1,496.4 L1608.2,506.3 L1608.3,517.8 L1608.3,531.3 L1608.4,547.9 L1608.5,569.4 L1608.6,599.6 L1608.7,651.4 L1608.8,689.5 L1608.8,689.5 L1608.9,656.1 L1609,604.4 L1609.1,574.1 L1609.2,552.7 L1609.3,536.1 L1609.3,522.6 L1609.4,511.2 L1609.5,501.3 L1609.6,492.6 L1609.7,484.9 L1609.8,477.9 L1609.9,471.6 L1610,465.8 L1610.1,460.4 L1610.1,455.5 L1610.2,450.9 L1610.3,446.6 L1610.4,442.5 L1610.5,438.7 L1610.6,435.2 L1610.7,431.8 L1610.8,428.6 L1610.9,425.6 L1610.9,422.7 L1611,420 L1611.1,417.4 L1611.2,414.9 L1611.3,412.5 L1611.4,410.3 L1611.5,408.2 L1611.6,406.1 L1611.7,404.1 L1611.7,402.3 L1611.8,400.5 L1611.9,398.8 L1612,397.2 L1612.1,395.6 L1612.2,394.1 L1612.3,392.7 L1612.4,391.3 L1612.5,390 L1612.5,388.8 L1612.6,387.6 L1612.7,386.5 L1612.8,385.4 L1612.9,384.4 L1613,383.4 L1613.1,382.5 L1613.2,381.6 L1613.3,380.8 L1613.3,380 L1613.4,379.3 L1613.5,378.6 L1613.6,377.9 L1613.7,377.3 L1613.8,376.8 L1613.9,376.2 L1614,375.8 L1614.1,375.3 L1614.1,374.9 L1614.2,374.6 L1614.3,374.3 L1614.4,374 L1614.5,373.8 L1614.6,373.6 L1614.7,373.4 L1614.8,373.3 L1614.8,373.2 L1614.9,373.1 L1615,373.1 L1615.1,373.2 L1615.2,373.2 L1615.3,373.3 L1615.4,373.5 L1615.5,373.7 L1615.6,373.9 L1615.6,374.2 L1615.7,374.5 L1615.8,374.8 L1615.9,375.2 L1616,375.6 L1616.1,376.1 L1616.2,376.6 L1616.3,377.1 L1616.4,377.7 L1616.4,378.3 L1616.5,379 L1616.6,379.7 L1616.7,380.5 L1616.8,381.3 L1616.9,382.2 L1617,383.1 L1617.1,384 L1617.2,385 L1617.2,386.1 L1617.3,387.2 L1617.4,388.4 L1617.5,389.6 L1617.6,390.9 L1617.7,392.3 L1617.8,393.7 L1617.9,395.2 L1618,396.8 L1618,398.4 L1618.1,400.1 L1618.2,401.9 L1618.3,403.7 L1618.4,405.7 L1618.5,407.7 L1618.6,409.9 L1618.7,412.1 L1618.8,414.5 L1618.8,417 L1618.9,419.6 L1619,422.3 L1619.1,425.2 L1619.2,428.2 L1619.3,431.4 L1619.4,434.8 L1619.5,438.4 L1619.6,442.2 L1619.6,446.2 L1619.7,450.5 L1619.8,455.1 L1619.9,460.1 L1620,465.5 L1620.1,471.3 L1620.2,477.7 L1620.3,484.7 L1620.3,492.4 L1620.4,501.1 L1620.5,511 L1620.6,522.4 L1620.7,536 L1620.8,552.6 L1620.9,574 L1621,575 L1621.1,575 L1621.1,575 L1621.1,575 L1621.2,575 L1621.3,575 L1621.4,575 L1621.5,557.1 L1621.6,540.5 L1621.6,527 L1621.7,515.6 L1621.8,505.7 L1621.9,497 L1622,489.3 L1622.1,482.3 L1622.2,476 L1622.2,470.2 L1622.3,464.8 L1622.4,459.9 L1622.5,455.3 L1622.6,450.9 L1622.7,446.9 L1622.7,443.1 L1622.8,439.5 L1622.9,436.2 L1623,433 L1623.1,429.9 L1623.2,427.1 L1623.2,424.3 L1623.3,421.8 L1623.4,419.3 L1623.5,416.9 L1623.6,414.7 L1623.7,412.5 L1623.7,410.5 L1623.8,408.5 L1623.9,406.7 L1624,404.9 L1624.1,403.2 L1624.2,401.5 L1624.2,400 L1624.3,398.5 L1624.4,397.1 L1624.5,395.7 L1624.6,394.4 L1624.7,393.1 L1624.7,392 L1624.8,390.8 L1624.9,389.8 L1625,388.7 L1625.1,387.8 L1625.2,386.8 L1625.2,386 L1625.3,385.2 L1625.4,384.4 L1625.5,383.6 L1625.6,383 L1625.7,382.3 L1625.7,381.7 L1625.8,381.1 L1625.9,380.6 L1626,380.2 L1626.1,379.7 L1626.2,379.3 L1626.2,379 L1626.3,378.7 L1626.4,378.4 L1626.5,378.1 L1626.6,377.9 L1626.7,377.8 L1626.8,377.7 L1626.8,377.6 L1626.9,377.5 L1627,377.5 L1627.1,377.6 L1627.2,377.6 L1627.3,377.7 L1627.3,377.9 L1627.4,378.1 L1627.5,378.3 L1627.6,378.6 L1627.7,378.9 L1627.8,379.2 L1627.8,379.6 L1627.9,380 L1628,380.5 L1628.1,381 L1628.2,381.5 L1628.3,382.1 L1628.3,382.7 L1628.4,383.4 L1628.5,384.1 L1628.6,384.9 L1628.7,385.7 L1628.8,386.6 L1628.8,387.5 L1628.9,388.4 L1629,389.5 L1629.1,390.5 L1629.2,391.6 L1629.3,392.8 L1629.3,394 L1629.4,395.3 L1629.5,396.7 L1629.6,398.1 L1629.7,399.6 L1629.8,401.2 L1629.8,402.8 L1629.9,404.5 L1630,406.3 L1630.1,408.1 L1630.2,410.1 L1630.3,412.1 L1630.3,414.3 L1630.4,416.5 L1630.5,418.9 L1630.6,421.4 L1630.7,424 L1630.8,426.7 L1630.8,429.6 L1630.9,432.6 L1631,435.8 L1631.1,439.2 L1631.2,442.8 L1631.3,446.6 L1631.4,450.6 L1631.4,454.9 L1631.5,459.6 L1631.6,464.5 L1631.7,469.9 L1631.8,475.7 L1631.9,482.1 L1631.9,489.1 L1632,496.8 L1632.1,505.5 L1632.2,515.4 L1632.3,526.8 L1632.4,540.4 L1632.4,557 L1632.5,578.4 L1632.6,608.7 L1632.7,628.6 L1632.8,628.6 L1632.8,628.6 L1632.9,628.6 L1632.9,612.9 L1633,582.7 L1633.1,561.3 L1633.2,544.7 L1633.2,531.1 L1633.3,519.7 L1633.4,509.9 L1633.5,501.2 L1633.6,493.4 L1633.6,486.5 L1633.7,480.1 L1633.8,474.3 L1633.9,469 L1634,464 L1634,459.4 L1634.1,455.1 L1634.2,451 L1634.3,447.3 L1634.4,443.7 L1634.4,440.3 L1634.5,437.1 L1634.6,434.1 L1634.7,431.2 L1634.7,428.5 L1634.8,425.9 L1634.9,423.4 L1635,421.1 L1635.1,418.8 L1635.1,416.7 L1635.2,414.6 L1635.3,412.7 L1635.4,410.8 L1635.5,409 L1635.5,407.3 L1635.6,405.7 L1635.7,404.1 L1635.8,402.6 L1635.9,401.2 L1635.9,399.8 L1636,398.5 L1636.1,397.3 L1636.2,396.1 L1636.3,395 L1636.3,393.9 L1636.4,392.9 L1636.5,391.9 L1636.6,391 L1636.6,390.1 L1636.7,389.3 L1636.8,388.5 L1636.9,387.8 L1637,387.1 L1637,386.5 L1637.1,385.9 L1637.2,385.3 L1637.3,384.8 L1637.4,384.3 L1637.4,383.9 L1637.5,383.5 L1637.6,383.1 L1637.7,382.8 L1637.8,382.5 L1637.8,382.3 L1637.9,382.1 L1638,381.9 L1638.1,381.8 L1638.2,381.7 L1638.2,381.7 L1638.3,381.7 L1638.4,381.7 L1638.5,381.8 L1638.5,381.9 L1638.6,382 L1638.7,382.2 L1638.8,382.4 L1638.9,382.7 L1638.9,383 L1639,383.3 L1639.1,383.7 L1639.2,384.2 L1639.3,384.6 L1639.3,385.1 L1639.4,385.7 L1639.5,386.3 L1639.6,386.9 L1639.7,387.6 L1639.7,388.3 L1639.8,389.1 L1639.9,389.9 L1640,390.7 L1640,391.6 L1640.1,392.6 L1640.2,393.6 L1640.3,394.7 L1640.4,395.8 L1640.4,397 L1640.5,398.2 L1640.6,399.5 L1640.7,400.9 L1640.8,402.3 L1640.8,403.8 L1640.9,405.3 L1641,406.9 L1641.1,408.7 L1641.2,410.4 L1641.2,412.3 L1641.3,414.3 L1641.4,416.3 L1641.5,418.4 L1641.6,420.7 L1641.6,423.1 L1641.7,425.5 L1641.8,428.1 L1641.9,430.9 L1641.9,433.7 L1642,436.8 L1642.1,440 L1642.2,443.3 L1642.3,446.9 L1642.3,450.7 L1642.4,454.8 L1642.5,459.1 L1642.6,463.7 L1642.7,468.7 L1642.7,474 L1642.8,479.9 L1642.9,486.2 L1643,493.2 L1643.1,501 L1643.1,509.7 L1643.2,519.5 L1643.3,531 L1643.4,544.5 L1643.5,561.1 L1643.5,582.6 L1643.6,612.8 L1643.7,635.2 L1643.8,635.2 L1643.8,635.2 L1643.8,635.2 L1643.9,616.8 L1644,586.6 L1644.1,565.2 L1644.1,548.6 L1644.2,535.1 L1644.3,523.6 L1644.4,513.8 L1644.4,505.1 L1644.5,497.4 L1644.6,490.4 L1644.7,484.1 L1644.7,478.2 L1644.8,472.9 L1644.9,467.9 L1645,463.3 L1645,459 L1645.1,455 L1645.2,451.2 L1645.3,447.6 L1645.3,444.2 L1645.4,441 L1645.5,438 L1645.6,435.1 L1645.6,432.4 L1645.7,429.8 L1645.8,427.3 L1645.9,425 L1645.9,422.7 L1646,420.6 L1646.1,418.5 L1646.2,416.6 L1646.2,414.7 L1646.3,412.9 L1646.4,411.2 L1646.5,409.6 L1646.5,408 L1646.6,406.5 L1646.7,405.1 L1646.8,403.8 L1646.8,402.5 L1646.9,401.2 L1647,400 L1647.1,398.9 L1647.1,397.8 L1647.2,396.8 L1647.3,395.8 L1647.4,394.9 L1647.4,394 L1647.5,393.2 L1647.6,392.4 L1647.7,391.7 L1647.7,391 L1647.8,390.4 L1647.9,389.8 L1648,389.2 L1648,388.7 L1648.1,388.2 L1648.2,387.8 L1648.3,387.4 L1648.3,387 L1648.4,386.7 L1648.5,386.5 L1648.6,386.2 L1648.6,386 L1648.7,385.9 L1648.8,385.7 L1648.9,385.7 L1648.9,385.6 L1649,385.6 L1649.1,385.6 L1649.2,385.7 L1649.2,385.8 L1649.3,386 L1649.4,386.2 L1649.5,386.4 L1649.5,386.6 L1649.6,386.9 L1649.7,387.3 L1649.8,387.7 L1649.8,388.1 L1649.9,388.5 L1650,389.1 L1650.1,389.6 L1650.1,390.2 L1650.2,390.8 L1650.3,391.5 L1650.4,392.2 L1650.4,393 L1650.5,393.8 L1650.6,394.7 L1650.7,395.6 L1650.7,396.5 L1650.8,397.5 L1650.9,398.6 L1651,399.7 L1651,400.9 L1651.1,402.1 L1651.2,403.4 L1651.3,404.8 L1651.3,406.2 L1651.4,407.7 L1651.5,409.3 L1651.6,410.9 L1651.6,412.6 L1651.7,414.4 L1651.8,416.2 L1651.9,418.2 L1651.9,420.2 L1652,422.4 L1652.1,424.6 L1652.2,427 L1652.2,429.5 L1652.3,432.1 L1652.4,434.8 L1652.5,437.7 L1652.5,440.7 L1652.6,443.9 L1652.7,447.3 L1652.8,450.9 L1652.8,454.7 L1652.9,458.7 L1653,463 L1653.1,467.7 L1653.1,472.6 L1653.2,478 L1653.3,483.8 L1653.4,490.2 L1653.4,497.2 L1653.5,504.9 L1653.6,513.6 L1653.7,523.5 L1653.7,531.3 L1653.8,531.3 L1653.9,531.3 L1654,531.3 L1654,531.3 L1654.1,531.3 L1654.2,531.3" stroke="#000" stroke-width="2"/>
<path d="M237,68.2 L261.6,68.2 L249.3,95.9 Z M424.3,68.5 L448.9,68.5 L436.6,96.2 Z M611.6,70.2 L636.2,70.2 L623.9,97.9 Z M799,81 L823.6,81 L811.3,108.7 Z M986.3,175.1 L1010.9,175.1 L998.6,202.8 Z M1173.6,783.7 L1198.2,783.7 L1185.9,811.4 Z M1360.9,467.9 L1385.5,467.9 L1373.2,495.6 Z M1548.2,348.3 L1572.8,348.3 L1560.5,376 Z" stroke="#000" stroke-width="2.8" stroke-linejoin="miter"/>
<path d="M249.3,78.4 L250.2,78.4 L251.2,78.4 L252.1,78.4 L253,78.4 L254,78.4 L254.9,78.4 L255.9,78.4 L256.8,78.4 L257.7,78.4 L258.7,78.4 L259.6,78.4 L260.5,78.4 L261.5,78.4 L262.4,78.4 L263.4,78.4 L264.3,78.4 L265.2,78.4 L266.2,78.4 L267.1,78.4 L268,78.4 L269,78.4 L269.9,78.4 L270.9,78.4 L271.8,78.4 L272.7,78.4 L273.7,78.4 L274.6,78.4 L275.5,78.4 L276.5,78.4 L277.4,78.4 L278.4,78.4 L279.3,78.4 L280.2,78.4 L281.2,78.4 L282.1,78.4 L283,78.4 L284,78.4 L284.9,78.4 L285.9,78.4 L286.8,78.4 L287.7,78.4 L288.7,78.4 L289.6,78.4 L290.5,78.4 L291.5,78.4 L292.4,78.4 L293.3,78.4 L294.3,78.4 L295.2,78.4 L296.2,78.4 L297.1,78.4 L298,78.4 L299,78.4 L299.9,78.4 L300.8,78.4 L301.8,78.4 L302.7,78.4 L303.7,78.4 L304.6,78.4 L305.5,78.4 L306.5,78.4 L307.4,78.4 L308.3,78.4 L309.3,78.4 L310.2,78.4 L311.2,78.4 L312.1,78.4 L313,78.4 L314,78.4 L314.9,78.4 L315.8,78.4 L316.8,78.4 L317.7,78.4 L318.7,78.4 L319.6,78.4 L320.5,78.4 L321.5,78.4 L322.4,78.4 L323.3,78.4 L324.3,78.4 L325.2,78.4 L326.2,78.4 L327.1,78.4 L328,78.4 L329,78.4 L329.9,78.4 L330.8,78.4 L331.8,78.4 L332.7,78.4 L333.7,78.4 L334.6,78.4 L335.5,78.4 L336.5,78.4 L337.4,78.4 L338.3,78.4 L339.3,78.4 L340.2,78.4 L341.1,78.4 L342.1,78.4 L343,78.4 L344,78.4 L344.9,78.4 L345.8,78.4 L346.8,78.4 L347.7,78.4 L348.6,78.4 L349.6,78.4 L350.5,78.4 L351.5,78.4 L352.4,78.4 L353.3,78.4 L354.3,78.4 L355.2,78.4 L356.1,78.4 L357.1,78.4 L358,78.4 L359,78.4 L359.9,78.4 L360.8,78.4 L361.8,78.4 L362.7,78.4 L363.6,78.4 L364.6,78.4 L365.5,78.4 L366.5,78.4 L367.4,78.4 L368.3,78.4 L369.3,78.4 L370.2,78.4 L371.1,78.4 L372.1,78.4 L373,78.4 L374,78.4 L374.9,78.4 L375.8,78.4 L376.8,78.4 L377.7,78.4 L378.6,78.4 L379.6,78.4 L380.5,78.4 L381.4,78.4 L382.4,78.4 L383.3,78.4 L384.3,78.4 L385.2,78.4 L386.1,78.4 L387.1,78.4 L388,78.4 L388.9,78.4 L389.9,78.4 L390.8,78.4 L391.8,78.4 L392.7,78.4 L393.6,78.4 L394.6,78.4 L395.5,78.4 L396.4,78.4 L397.4,78.4 L398.3,78.4 L399.3,78.4 L400.2,78.4 L401.1,78.4 L402.1,78.4 L403,78.4 L403.9,78.4 L404.9,78.4 L405.8,78.4 L406.8,78.4 L407.7,78.4 L408.6,78.4 L409.6,78.4 L410.5,78.4 L411.4,78.4 L412.4,78.4 L413.3,78.4 L414.3,78.4 L415.2,78.4 L416.1,78.4 L417.1,78.4 L418,78.4 L418.9,78.4 L419.9,78.4 L420.8,78.4 L421.7,78.4 L422.7,78.4 L423.6,78.4 L424.6,78.4 L425.5,78.4 L426.4,78.4 L427.4,78.4 L428.3,78.4 L429.2,78.4 L430.2,78.4 L431.1,78.4 L432.1,78.4 L433,78.4 L433.9,78.4 L434.9,78.4 L435.8,78.4 L436.7,78.4 L437.7,78.4 L438.6,78.4 L439.6,78.4 L440.5,78.4 L441.4,78.4 L442.4,78.4 L443.3,78.4 L444.2,78.4 L445.2,78.4 L446.1,78.4 L447.1,78.4 L448,78.4 L448.9,78.4 L449.9,78.4 L450.8,78.4 L451.7,78.4 L452.7,78.4 L453.6,78.4 L454.6,78.4 L455.5,78.5 L456.4,78.5 L457.4,78.5 L458.3,78.5 L459.2,78.5 L460.2,78.5 L461.1,78.5 L462.1,78.5 L463,78.5 L463.9,78.5 L464.9,78.5 L465.8,78.5 L466.7,78.5 L467.7,78.5 L468.6,78.5 L469.5,78.5 L470.5,78.5 L471.4,78.5 L472.4,78.5 L473.3,78.5 L474.2,78.5 L475.2,78.5 L476.1,78.5 L477,78.5 L478,78.5 L478.9,78.5 L479.9,78.5 L480.8,78.5 L481.7,78.5 L482.7,78.5 L483.6,78.5 L484.5,78.5 L485.5,78.5 L486.4,78.5 L487.4,78.5 L488.3,78.5 L489.2,78.5 L490.2,78.5 L491.1,78.5 L492,78.5 L493,78.5 L493.9,78.5 L494.9,78.5 L495.8,78.5 L496.7,78.5 L497.7,78.5 L498.6,78.5 L499.5,78.5 L500.5,78.5 L501.4,78.5 L502.4,78.5 L503.3,78.5 L504.2,78.5 L505.2,78.5 L506.1,78.5 L507,78.5 L508,78.5 L508.9,78.5 L509.8,78.5 L510.8,78.5 L511.7,78.5 L512.7,78.5 L513.6,78.5 L514.5,78.5 L515.5,78.5 L516.4,78.5 L517.3,78.5 L518.3,78.5 L519.2,78.5 L520.2,78.5 L521.1,78.5 L522,78.5 L523,78.5 L523.9,78.5 L524.8,78.5 L525.8,78.5 L526.7,78.5 L527.7,78.5 L528.6,78.5 L529.5,78.6 L530.5,78.6 L531.4,78.6 L532.3,78.6 L533.3,78.6 L534.2,78.6 L535.2,78.6 L536.1,78.6 L537,78.6 L538,78.6 L538.9,78.6 L539.8,78.6 L540.8,78.6 L541.7,78.6 L542.7,78.6 L543.6,78.6 L544.5,78.6 L545.5,78.6 L546.4,78.6 L547.3,78.6 L548.3,78.6 L549.2,78.6 L550.1,78.6 L551.1,78.6 L552,78.6 L553,78.6 L553.9,78.6 L554.8,78.6 L555.8,78.6 L556.7,78.6 L557.6,78.6 L558.6,78.6 L559.5,78.6 L560.5,78.6 L561.4,78.6 L562.3,78.7 L563.3,78.7 L564.2,78.7 L565.1,78.7 L566.1,78.7 L567,78.7 L568,78.7 L568.9,78.7 L569.8,78.7 L570.8,78.7 L571.7,78.7 L572.6,78.7 L573.6,78.7 L574.5,78.7 L575.5,78.7 L576.4,78.7 L577.3,78.7 L578.3,78.7 L579.2,78.7 L580.1,78.7 L581.1,78.7 L582,78.7 L583,78.8 L583.9,78.8 L584.8,78.8 L585.8,78.8 L586.7,78.8 L587.6,78.8 L588.6,78.8 L589.5,78.8 L590.4,78.8 L591.4,78.8 L592.3,78.8 L593.3,78.8 L594.2,78.8 L595.1,78.8 L596.1,78.8 L597,78.8 L597.9,78.9 L598.9,78.9 L599.8,78.9 L600.8,78.9 L601.7,78.9 L602.6,78.9 L603.6,78.9 L604.5,78.9 L605.4,78.9 L606.4,78.9 L607.3,78.9 L608.3,78.9 L609.2,78.9 L610.1,79 L611.1,79 L612,79 L612.9,79 L613.9,79 L614.8,79 L615.8,79 L616.7,79 L617.6,79 L618.6,79 L619.5,79.1 L620.4,79.1 L621.4,79.1 L622.3,79.1 L623.3,79.1 L624.2,79.1 L625.1,79.1 L626.1,79.1 L627,79.1 L627.9,79.1 L628.9,79.2 L629.8,79.2 L630.8,79.2 L631.7,79.2 L632.6,79.2 L633.6,79.2 L634.5,79.2 L635.4,79.3 L636.4,79.3 L637.3,79.3 L638.2,79.3 L639.2,79.3 L640.1,79.3 L641.1,79.3 L642,79.4 L642.9,79.4 L643.9,79.4 L644.8,79.4 L645.7,79.4 L646.7,79.4 L647.6,79.4 L648.6,79.5 L649.5,79.5 L650.4,79.5 L651.4,79.5 L652.3,79.5 L653.2,79.5 L654.2,79.6 L655.1,79.6 L656.1,79.6 L657,79.6 L657.9,79.6 L658.9,79.7 L659.8,79.7 L660.7,79.7 L661.7,79.7 L662.6,79.7 L663.6,79.8 L664.5,79.8 L665.4,79.8 L666.4,79.8 L667.3,79.9 L668.2,79.9 L669.2,79.9 L670.1,79.9 L671.1,80 L672,80 L672.9,80 L673.9,80 L674.8,80.1 L675.7,80.1 L676.7,80.1 L677.6,80.1 L678.5,80.2 L679.5,80.2 L680.4,80.2 L681.4,80.2 L682.3,80.3 L683.2,80.3 L684.2,80.3 L685.1,80.4 L686,80.4 L687,80.4 L687.9,80.5 L688.9,80.5 L689.8,80.5 L690.7,80.6 L691.7,80.6 L692.6,80.6 L693.5,80.7 L694.5,80.7 L695.4,80.7 L696.4,80.8 L697.3,80.8 L698.2,80.8 L699.2,80.9 L700.1,80.9 L701,81 L702,81 L702.9,81 L703.9,81.1 L704.8,81.1 L705.7,81.2 L706.7,81.2 L707.6,81.2 L708.5,81.3 L709.5,81.3 L710.4,81.4 L711.4,81.4 L712.3,81.5 L713.2,81.5 L714.2,81.6 L715.1,81.6 L716,81.7 L717,81.7 L717.9,81.8 L718.8,81.8 L719.8,81.9 L720.7,81.9 L721.7,82 L722.6,82 L723.5,82.1 L724.5,82.1 L725.4,82.2 L726.3,82.3 L727.3,82.3 L728.2,82.4 L729.2,82.4 L730.1,82.5 L731,82.6 L732,82.6 L732.9,82.7 L733.8,82.7 L734.8,82.8 L735.7,82.9 L736.7,82.9 L737.6,83 L738.5,83.1 L739.5,83.1 L740.4,83.2 L741.3,83.3 L742.3,83.4 L743.2,83.4 L744.2,83.5 L745.1,83.6 L746,83.7 L747,83.7 L747.9,83.8 L748.8,83.9 L749.8,84 L750.7,84.1 L751.7,84.1 L752.6,84.2 L753.5,84.3 L754.5,84.4 L755.4,84.5 L756.3,84.6 L757.3,84.6 L758.2,84.7 L759.2,84.8 L760.1,84.9 L761,85 L762,85.1 L762.9,85.2 L763.8,85.3 L764.8,85.4 L765.7,85.5 L766.6,85.6 L767.6,85.7 L768.5,85.8 L769.5,85.9 L770.4,86 L771.3,86.1 L772.3,86.2 L773.2,86.3 L774.1,86.4 L775.1,86.5 L776,86.6 L777,86.7 L777.9,86.8 L778.8,87 L779.8,87.1 L780.7,87.2 L781.6,87.3 L782.6,87.4 L783.5,87.5 L784.5,87.7 L785.4,87.8 L786.3,87.9 L787.3,88 L788.2,88.1 L789.1,88.3 L790.1,88.4 L791,88.5 L792,88.7 L792.9,88.8 L793.8,88.9 L794.8,89.1 L795.7,89.2 L796.6,89.3 L797.6,89.5 L798.5,89.6 L799.5,89.7 L800.4,89.9 L801.3,90 L802.3,90.2 L803.2,90.3 L804.1,90.4 L805.1,90.6 L806,90.7 L806.9,90.9 L807.9,91 L808.8,91.2 L809.8,91.3 L810.7,91.5 L811.6,91.7 L812.6,91.8 L813.5,92 L814.4,92.1 L815.4,92.3 L816.3,92.4 L817.3,92.6 L818.2,92.8 L819.1,92.9 L820.1,93.1 L821,93.3 L821.9,93.4 L822.9,93.6 L823.8,93.8 L824.8,93.9 L825.7,94.1 L826.6,94.3 L827.6,94.5 L828.5,94.6 L829.4,94.8 L830.4,95 L831.3,95.2 L832.3,95.3 L833.2,95.5 L834.1,95.7 L835.1,95.9 L836,96.1 L836.9,96.3 L837.9,96.4 L838.8,96.6 L839.8,96.8 L840.7,97 L841.6,97.2 L842.6,97.4 L843.5,97.6 L844.4,97.8 L845.4,98 L846.3,98.2 L847.2,98.4 L848.2,98.6 L849.1,98.7 L850.1,98.9 L851,99.1 L851.9,99.3 L852.9,99.6 L853.8,99.8 L854.7,100 L855.7,100.2 L856.6,100.4 L857.6,100.6 L858.5,100.8 L859.4,101 L860.4,101.2 L861.3,101.4 L862.2,101.6 L863.2,101.8 L864.1,102.1 L865.1,102.3 L866,102.5 L866.9,102.7 L867.9,102.9 L868.8,103.1 L869.7,103.4 L870.7,103.6 L871.6,103.8 L872.6,104 L873.5,104.2 L874.4,104.5 L875.4,104.7 L876.3,104.9 L877.2,105.2 L878.2,105.4 L879.1,105.6 L880.1,105.9 L881,106.1 L881.9,106.3 L882.9,106.6 L883.8,106.8 L884.7,107 L885.7,107.3 L886.6,107.5 L887.6,107.8 L888.5,108 L889.4,108.3 L890.4,108.5 L891.3,108.8 L892.2,109 L893.2,109.3 L894.1,109.5 L895,109.8 L896,110 L896.9,110.3 L897.9,110.6 L898.8,110.8 L899.7,111.1 L900.7,111.4 L901.6,111.6 L902.5,111.9 L903.5,112.2 L904.4,112.5 L905.4,112.8 L906.3,113 L907.2,113.3 L908.2,113.6 L909.1,113.9 L910,114.2 L911,114.5 L911.9,114.8 L912.9,115.1 L913.8,115.4 L914.7,115.7 L915.7,116.1 L916.6,116.4 L917.5,116.7 L918.5,117 L919.4,117.4 L920.4,117.7 L921.3,118 L922.2,118.4 L923.2,118.7 L924.1,119.1 L925,119.4 L926,119.8 L926.9,120.2 L927.9,120.5 L928.8,120.9 L929.7,121.3 L930.7,121.7 L931.6,122.1 L932.5,122.5 L933.5,122.9 L934.4,123.3 L935.3,123.7 L936.3,124.1 L937.2,124.5 L938.2,125 L939.1,125.4 L940,125.9 L941,126.3 L941.9,126.8 L942.8,127.2 L943.8,127.7 L944.7,128.2 L945.7,128.7 L946.6,129.2 L947.5,129.6 L948.5,130.2 L949.4,130.7 L950.3,131.2 L951.3,131.7 L952.2,132.2 L953.2,132.8 L954.1,133.3 L955,133.9 L956,134.4 L956.9,135 L957.8,135.6 L958.8,136.2 L959.7,136.7 L960.7,137.3 L961.6,137.9 L962.5,138.5 L963.5,139.2 L964.4,139.8 L965.3,140.4 L966.3,141.1 L967.2,141.7 L968.2,142.3 L969.1,143 L970,143.7 L971,144.3 L971.9,145 L972.8,145.7 L973.8,146.4 L974.7,147.1 L975.6,147.8 L976.6,148.5 L977.5,149.2 L978.5,149.9 L979.4,150.6 L980.3,151.4 L981.3,152.1 L982.2,152.9 L983.1,153.6 L984.1,154.4 L985,155.1 L986,155.9 L986.9,156.6 L987.8,157.4 L988.8,158.2 L989.7,159 L990.6,159.8 L991.6,160.6 L992.5,161.4 L993.5,162.2 L994.4,163 L995.3,163.8 L996.3,164.6 L997.2,165.5 L998.1,166.3 L999.1,167.1 L1000,168 L1001,168.8 L1001.9,169.7 L1002.8,170.5 L1003.8,171.4 L1004.7,172.3 L1005.6,173.2 L1006.6,174 L1007.5,174.9 L1008.5,175.8 L1009.4,176.7 L1010.3,177.7 L1011.3,178.6 L1012.2,179.5 L1013.1,180.5 L1014.1,181.4 L1015,182.4 L1015.9,183.3 L1016.9,184.3 L1017.8,185.3 L1018.8,186.3 L1019.7,187.3 L1020.6,188.4 L1021.6,189.4 L1022.5,190.5 L1023.4,191.5 L1024.4,192.6 L1025.3,193.7 L1026.3,194.9 L1027.2,196 L1028.1,197.1 L1029.1,198.3 L1030,199.5 L1030.9,200.7 L1031.9,202 L1032.8,203.2 L1033.8,204.5 L1034.7,205.8 L1035.6,207.1 L1036.6,208.5 L1037.5,209.8 L1038.4,211.2 L1039.4,212.6 L1040.3,214.1 L1041.3,215.5 L1042.2,217 L1043.1,218.5 L1044.1,220.1 L1045,221.7 L1045.9,223.3 L1046.9,224.9 L1047.8,226.5 L1048.8,228.2 L1049.7,229.9 L1050.6,231.7 L1051.6,233.4 L1052.5,235.2 L1053.4,237 L1054.4,238.9 L1055.3,240.7 L1056.3,242.6 L1057.2,244.5 L1058.1,246.5 L1059.1,248.5 L1060,250.4 L1060.9,252.5 L1061.9,254.5 L1062.8,256.5 L1063.7,258.6 L1064.7,260.7 L1065.6,262.9 L1066.6,265 L1067.5,267.2 L1068.4,269.4 L1069.4,271.6 L1070.3,273.8 L1071.2,276.1 L1072.2,278.3 L1073.1,280.6 L1074.1,282.9 L1075,285.3 L1075.9,287.6 L1076.9,290 L1077.8,292.4 L1078.7,294.8 L1079.7,297.2 L1080.6,299.7 L1081.6,302.2 L1082.5,304.7 L1083.4,307.2 L1084.4,309.7 L1085.3,312.3 L1086.2,314.9 L1087.2,317.5 L1088.1,320.1 L1089.1,322.8 L1090,325.5 L1090.9,328.2 L1091.9,330.9 L1092.8,333.7 L1093.7,336.5 L1094.7,339.4 L1095.6,342.2 L1096.6,345.1 L1097.5,348 L1098.4,351 L1099.4,354 L1100.3,357 L1101.2,360 L1102.2,363.1 L1103.1,366.2 L1104,369.4 L1105,372.6 L1105.9,375.8 L1106.9,379 L1107.8,382.3 L1108.7,385.6 L1109.7,389 L1110.6,392.4 L1111.5,395.8 L1112.5,399.2 L1113.4,402.7 L1114.4,406.2 L1115.3,409.7 L1116.2,413.3 L1117.2,416.9 L1118.1,420.5 L1119,424.1 L1120,427.8 L1120.9,431.5 L1121.9,435.2 L1122.8,438.9 L1123.7,442.7 L1124.7,446.4 L1125.6,450.2 L1126.5,454 L1127.5,457.8 L1128.4,461.7 L1129.4,465.5 L1130.3,469.4 L1131.2,473.3 L1132.2,477.2 L1133.1,481 L1134,485 L1135,488.9 L1135.9,492.8 L1136.9,496.7 L1137.8,500.7 L1138.7,504.6 L1139.7,508.6 L1140.6,512.5 L1141.5,516.5 L1142.5,520.4 L1143.4,524.4 L1144.3,528.3 L1145.3,532.3 L1146.2,536.3 L1147.2,540.2 L1148.1,544.2 L1149,548.2 L1150,552.1 L1150.9,556.1 L1151.8,560.1 L1152.8,564 L1153.7,568 L1154.7,571.9 L1155.6,575.9 L1156.5,579.8 L1157.5,583.8 L1158.4,587.7 L1159.3,591.7 L1160.3,595.6 L1161.2,599.5 L1162.2,603.5 L1163.1,607.4 L1164,611.3 L1165,615.2 L1165.9,619.1 L1166.8,623.1 L1167.8,627 L1168.7,630.9 L1169.7,634.8 L1170.6,638.7 L1171.5,642.5 L1172.5,646.4 L1173.4,650.3 L1174.3,654.2 L1175.3,658 L1176.2,661.9 L1177.2,665.8 L1178.1,669.6 L1179,673.5 L1180,677.3 L1180.9,681.2 L1181.8,685 L1182.8,688.8 L1183.7,692.6 L1184.7,696.5 L1185.6,700.3 L1186.5,704.1 L1187.5,707.9 L1188.4,711.7 L1189.3,715.5 L1190.3,719.3 L1191.2,723.1 L1192.1,726.9 L1193.1,730.7 L1194,734.4 L1195,738.2 L1195.9,742 L1196.8,745.7 L1197.8,749.5 L1198.7,753.3 L1199.6,757 L1200.6,760.8 L1201.5,764.5 L1202.5,768.2 L1203.4,772 L1204.3,775.7 L1205.3,779.4 L1206.2,783.2 L1207.1,786.9 L1208.1,790.6 L1209,794.3 L1210,798 L1210.9,801.7 L1211.8,805.4 L1212.8,809.1 L1213.7,812.8 L1214.6,816.5 L1215.6,820.2 L1216.5,823.9 L1217.5,827.6 L1218.4,831.2 L1219.3,834.9 L1220.3,838.6 L1221.2,842.3 L1222.1,845.9 L1223.1,849.6 L1224,853.3 L1225,856.9 L1225.9,860.6 L1226.8,864.2 L1227.8,867.9 L1228.7,871.5 L1229.6,875.2 L1230.6,878.8 L1231.5,882.4 L1232.4,886.1 L1233.4,889.7 L1234.3,893.3 L1235.3,897 L1236.2,900.6 L1237.1,904.2 L1238.1,907.8 L1239,911.4 L1239.9,915.1 L1240.9,918.7 L1241.8,922.3 L1242.8,925.9 L1243.7,929.5 L1244.6,933.1 L1245.6,936.7 L1246.5,940.3 L1247.4,943.9 L1248.4,947.5 L1249.3,951.1 L1250.3,954.7 L1251.2,958.3 L1252.1,961.9 L1253.1,965.4" stroke="#a00000" stroke-width="2.9"/>
<path d="M239,64.4 H259.6 L239,92.4 H259.6 Z M426.3,64.4 H446.9 L426.3,92.4 H446.9 Z M613.6,65.1 H634.2 L613.6,93.1 H634.2 Z M801,77.6 H821.6 L801,105.6 H821.6 Z M988.3,152.7 H1008.9 L988.3,180.7 H1008.9 Z M1175.6,687.6 H1196.2 L1175.6,715.6 H1196.2 Z" stroke="#a00000" stroke-width="3" stroke-linejoin="miter"/>
<path d="M249.3,81.4 L250.2,81.4 L251.2,81.4 L252.1,81.4 L253,81.4 L254,81.4 L254.9,81.4 L255.9,81.4 L256.8,81.4 L257.7,81.4 L258.7,81.4 L259.6,81.4 L260.5,81.4 L261.5,81.4 L262.4,81.4 L263.4,81.4 L264.3,81.4 L265.2,81.4 L266.2,81.4 L267.1,81.4 L268,81.4 L269,81.4 L269.9,81.4 L270.9,81.4 L271.8,81.4 L272.7,81.4 L273.7,81.4 L274.6,81.4 L275.5,81.4 L276.5,81.4 L277.4,81.4 L278.4,81.4 L279.3,81.4 L280.2,81.4 L281.2,81.4 L282.1,81.4 L283,81.4 L284,81.4 L284.9,81.4 L285.9,81.4 L286.8,81.4 L287.7,81.4 L288.7,81.4 L289.6,81.4 L290.5,81.4 L291.5,81.4 L292.4,81.4 L293.3,81.4 L294.3,81.4 L295.2,81.4 L296.2,81.4 L297.1,81.4 L298,81.4 L299,81.4 L299.9,81.4 L300.8,81.4 L301.8,81.4 L302.7,81.4 L303.7,81.4 L304.6,81.4 L305.5,81.4 L306.5,81.4 L307.4,81.4 L308.3,81.4 L309.3,81.4 L310.2,81.4 L311.2,81.4 L312.1,81.4 L313,81.4 L314,81.4 L314.9,81.4 L315.8,81.4 L316.8,81.4 L317.7,81.4 L318.7,81.4 L319.6,81.4 L320.5,81.4 L321.5,81.4 L322.4,81.4 L323.3,81.4 L324.3,81.4 L325.2,81.4 L326.2,81.4 L327.1,81.4 L328,81.4 L329,81.4 L329.9,81.4 L330.8,81.4 L331.8,81.4 L332.7,81.4 L333.7,81.4 L334.6,81.4 L335.5,81.4 L336.5,81.4 L337.4,81.4 L338.3,81.4 L339.3,81.4 L340.2,81.4 L341.1,81.4 L342.1,81.4 L343,81.4 L344,81.4 L344.9,81.4 L345.8,81.4 L346.8,81.4 L347.7,81.4 L348.6,81.4 L349.6,81.4 L350.5,81.4 L351.5,81.4 L352.4,81.4 L353.3,81.4 L354.3,81.4 L355.2,81.4 L356.1,81.4 L357.1,81.4 L358,81.4 L359,81.4 L359.9,81.4 L360.8,81.4 L361.8,81.4 L362.7,81.4 L363.6,81.4 L364.6,81.4 L365.5,81.4 L366.5,81.4 L367.4,81.4 L368.3,81.4 L369.3,81.4 L370.2,81.4 L371.1,81.4 L372.1,81.4 L373,81.4 L374,81.4 L374.9,81.4 L375.8,81.4 L376.8,81.4 L377.7,81.4 L378.6,81.4 L379.6,81.4 L380.5,81.4 L381.4,81.4 L382.4,81.4 L383.3,81.4 L384.3,81.4 L385.2,81.4 L386.1,81.4 L387.1,81.4 L388,81.4 L388.9,81.4 L389.9,81.4 L390.8,81.4 L391.8,81.4 L392.7,81.4 L393.6,81.4 L394.6,81.4 L395.5,81.4 L396.4,81.4 L397.4,81.4 L398.3,81.4 L399.3,81.4 L400.2,81.4 L401.1,81.4 L402.1,81.4 L403,81.4 L403.9,81.4 L404.9,81.4 L405.8,81.4 L406.8,81.4 L407.7,81.4 L408.6,81.4 L409.6,81.4 L410.5,81.4 L411.4,81.4 L412.4,81.4 L413.3,81.4 L414.3,81.4 L415.2,81.4 L416.1,81.4 L417.1,81.4 L418,81.4 L418.9,81.4 L419.9,81.4 L420.8,81.4 L421.7,81.4 L422.7,81.4 L423.6,81.4 L424.6,81.4 L425.5,81.4 L426.4,81.4 L427.4,81.4 L428.3,81.4 L429.2,81.4 L430.2,81.4 L431.1,81.4 L432.1,81.4 L433,81.4 L433.9,81.4 L434.9,81.4 L435.8,81.4 L436.7,81.4 L437.7,81.4 L438.6,81.4 L439.6,81.4 L440.5,81.4 L441.4,81.4 L442.4,81.4 L443.3,81.4 L444.2,81.4 L445.2,81.4 L446.1,81.4 L447.1,81.4 L448,81.4 L448.9,81.4 L449.9,81.4 L450.8,81.4 L451.7,81.4 L452.7,81.4 L453.6,81.4 L454.6,81.4 L455.5,81.4 L456.4,81.4 L457.4,81.4 L458.3,81.4 L459.2,81.4 L460.2,81.4 L461.1,81.4 L462.1,81.4 L463,81.4 L463.9,81.4 L464.9,81.4 L465.8,81.4 L466.7,81.4 L467.7,81.4 L468.6,81.4 L469.5,81.4 L470.5,81.4 L471.4,81.4 L472.4,81.4 L473.3,81.4 L474.2,81.4 L475.2,81.4 L476.1,81.4 L477,81.4 L478,81.4 L478.9,81.4 L479.9,81.4 L480.8,81.4 L481.7,81.4 L482.7,81.4 L483.6,81.4 L484.5,81.4 L485.5,81.4 L486.4,81.4 L487.4,81.4 L488.3,81.4 L489.2,81.4 L490.2,81.4 L491.1,81.4 L492,81.4 L493,81.4 L493.9,81.4 L494.9,81.4 L495.8,81.4 L496.7,81.4 L497.7,81.4 L498.6,81.4 L499.5,81.4 L500.5,81.4 L501.4,81.4 L502.4,81.4 L503.3,81.4 L504.2,81.4 L505.2,81.4 L506.1,81.4 L507,81.4 L508,81.4 L508.9,81.4 L509.8,81.4 L510.8,81.4 L511.7,81.4 L512.7,81.4 L513.6,81.4 L514.5,81.4 L515.5,81.4 L516.4,81.4 L517.3,81.4 L518.3,81.4 L519.2,81.4 L520.2,81.4 L521.1,81.4 L522,81.4 L523,81.4 L523.9,81.4 L524.8,81.4 L525.8,81.4 L526.7,81.4 L527.7,81.4 L528.6,81.4 L529.5,81.4 L530.5,81.4 L531.4,81.4 L532.3,81.4 L533.3,81.4 L534.2,81.4 L535.2,81.4 L536.1,81.4 L537,81.4 L538,81.4 L538.9,81.4 L539.8,81.4 L540.8,81.4 L541.7,81.4 L542.7,81.4 L543.6,81.4 L544.5,81.4 L545.5,81.4 L546.4,81.4 L547.3,81.4 L548.3,81.4 L549.2,81.4 L550.1,81.4 L551.1,81.4 L552,81.4 L553,81.4 L553.9,81.4 L554.8,81.4 L555.8,81.4 L556.7,81.4 L557.6,81.4 L558.6,81.4 L559.5,81.4 L560.5,81.4 L561.4,81.4 L562.3,81.4 L563.3,81.4 L564.2,81.4 L565.1,81.4 L566.1,81.4 L567,81.4 L568,81.4 L568.9,81.4 L569.8,81.4 L570.8,81.4 L571.7,81.4 L572.6,81.4 L573.6,81.4 L574.5,81.4 L575.5,81.4 L576.4,81.4 L577.3,81.4 L578.3,81.4 L579.2,81.4 L580.1,81.4 L581.1,81.4 L582,81.4 L583,81.4 L583.9,81.4 L584.8,81.4 L585.8,81.4 L586.7,81.4 L587.6,81.4 L588.6,81.4 L589.5,81.4 L590.4,81.4 L591.4,81.4 L592.3,81.4 L593.3,81.4 L594.2,81.4 L595.1,81.4 L596.1,81.4 L597,81.4 L597.9,81.4 L598.9,81.4 L599.8,81.4 L600.8,81.4 L601.7,81.4 L602.6,81.4 L603.6,81.4 L604.5,81.4 L605.4,81.4 L606.4,81.4 L607.3,81.4 L608.3,81.4 L609.2,81.4 L610.1,81.4 L611.1,81.4 L612,81.4 L612.9,81.4 L613.9,81.4 L614.8,81.4 L615.8,81.4 L616.7,81.4 L617.6,81.4 L618.6,81.4 L619.5,81.4 L620.4,81.4 L621.4,81.4 L622.3,81.4 L623.3,81.4 L624.2,81.4 L625.1,81.4 L626.1,81.4 L627,81.4 L627.9,81.4 L628.9,81.4 L629.8,81.4 L630.8,81.4 L631.7,81.4 L632.6,81.4 L633.6,81.4 L634.5,81.4 L635.4,81.4 L636.4,81.4 L637.3,81.4 L638.2,81.4 L639.2,81.4 L640.1,81.4 L641.1,81.4 L642,81.4 L642.9,81.4 L643.9,81.4 L644.8,81.4 L645.7,81.4 L646.7,81.5 L647.6,81.5 L648.6,81.5 L649.5,81.6 L650.4,81.6 L651.4,81.6 L652.3,81.7 L653.2,81.7 L654.2,81.7 L655.1,81.8 L656.1,81.8 L657,81.8 L657.9,81.9 L658.9,81.9 L659.8,81.9 L660.7,82 L661.7,82 L662.6,82 L663.6,82.1 L664.5,82.1 L665.4,82.1 L666.4,82.2 L667.3,82.2 L668.2,82.2 L669.2,82.3 L670.1,82.3 L671.1,82.4 L672,82.4 L672.9,82.4 L673.9,82.5 L674.8,82.5 L675.7,82.6 L676.7,82.6 L677.6,82.6 L678.5,82.7 L679.5,82.7 L680.4,82.8 L681.4,82.8 L682.3,82.9 L683.2,82.9 L684.2,83 L685.1,83 L686,83 L687,83.1 L687.9,83.1 L688.9,83.2 L689.8,83.2 L690.7,83.3 L691.7,83.3 L692.6,83.4 L693.5,83.4 L694.5,83.5 L695.4,83.5 L696.4,83.6 L697.3,83.6 L698.2,83.7 L699.2,83.7 L700.1,83.8 L701,83.9 L702,83.9 L702.9,84 L703.9,84 L704.8,84.1 L705.7,84.1 L706.7,84.2 L707.6,84.3 L708.5,84.3 L709.5,84.4 L710.4,84.4 L711.4,84.5 L712.3,84.6 L713.2,84.6 L714.2,84.7 L715.1,84.7 L716,84.8 L717,84.9 L717.9,84.9 L718.8,85 L719.8,85.1 L720.7,85.1 L721.7,85.2 L722.6,85.3 L723.5,85.3 L724.5,85.4 L725.4,85.5 L726.3,85.6 L727.3,85.6 L728.2,85.7 L729.2,85.8 L730.1,85.8 L731,85.9 L732,86 L732.9,86.1 L733.8,86.2 L734.8,86.2 L735.7,86.3 L736.7,86.4 L737.6,86.5 L738.5,86.6 L739.5,86.6 L740.4,86.7 L741.3,86.8 L742.3,86.9 L743.2,87 L744.2,87.1 L745.1,87.2 L746,87.2 L747,87.3 L747.9,87.4 L748.8,87.5 L749.8,87.6 L750.7,87.7 L751.7,87.8 L752.6,87.9 L753.5,88 L754.5,88.1 L755.4,88.2 L756.3,88.3 L757.3,88.4 L758.2,88.5 L759.2,88.6 L760.1,88.7 L761,88.8 L762,88.9 L762.9,89 L763.8,89.1 L764.8,89.2 L765.7,89.3 L766.6,89.4 L767.6,89.5 L768.5,89.7 L769.5,89.8 L770.4,89.9 L771.3,90 L772.3,90.1 L773.2,90.2 L774.1,90.4 L775.1,90.5 L776,90.6 L777,90.7 L777.9,90.8 L778.8,91 L779.8,91.1 L780.7,91.2 L781.6,91.4 L782.6,91.5 L783.5,91.6 L784.5,91.7 L785.4,91.9 L786.3,92 L787.3,92.1 L788.2,92.3 L789.1,92.4 L790.1,92.6 L791,92.7 L792,92.9 L792.9,93 L793.8,93.1 L794.8,93.3 L795.7,93.4 L796.6,93.6 L797.6,93.7 L798.5,93.9 L799.5,94 L800.4,94.2 L801.3,94.4 L802.3,94.5 L803.2,94.7 L804.1,94.8 L805.1,95 L806,95.2 L806.9,95.3 L807.9,95.5 L808.8,95.7 L809.8,95.8 L810.7,96 L811.6,96.2 L812.6,96.3 L813.5,96.5 L814.4,96.7 L815.4,96.9 L816.3,97.1 L817.3,97.2 L818.2,97.4 L819.1,97.6 L820.1,97.8 L821,98 L821.9,98.2 L822.9,98.4 L823.8,98.6 L824.8,98.8 L825.7,99 L826.6,99.2 L827.6,99.4 L828.5,99.6 L829.4,99.8 L830.4,100 L831.3,100.2 L832.3,100.4 L833.2,100.6 L834.1,100.8 L835.1,101 L836,101.2 L836.9,101.5 L837.9,101.7 L838.8,101.9 L839.8,102.1 L840.7,102.4 L841.6,102.6 L842.6,102.8 L843.5,103 L844.4,103.3 L845.4,103.5 L846.3,103.7 L847.2,104 L848.2,104.2 L849.1,104.5 L850.1,104.7 L851,105 L851.9,105.2 L852.9,105.5 L853.8,105.7 L854.7,106 L855.7,106.2 L856.6,106.5 L857.6,106.7 L858.5,107 L859.4,107.3 L860.4,107.5 L861.3,107.8 L862.2,108.1 L863.2,108.4 L864.1,108.6 L865.1,108.9 L866,109.2 L866.9,109.5 L867.9,109.8 L868.8,110 L869.7,110.3 L870.7,110.6 L871.6,110.9 L872.6,111.2 L873.5,111.5 L874.4,111.8 L875.4,112.1 L876.3,112.4 L877.2,112.7 L878.2,113 L879.1,113.4 L880.1,113.7 L881,114 L881.9,114.3 L882.9,114.6 L883.8,115 L884.7,115.3 L885.7,115.6 L886.6,116 L887.6,116.3 L888.5,116.6 L889.4,117 L890.4,117.3 L891.3,117.7 L892.2,118 L893.2,118.4 L894.1,118.7 L895,119.1 L896,119.5 L896.9,119.8 L897.9,120.2 L898.8,120.6 L899.7,121 L900.7,121.3 L901.6,121.7 L902.5,122.1 L903.5,122.5 L904.4,122.9 L905.4,123.3 L906.3,123.7 L907.2,124.1 L908.2,124.5 L909.1,124.9 L910,125.3 L911,125.8 L911.9,126.2 L912.9,126.6 L913.8,127.1 L914.7,127.5 L915.7,127.9 L916.6,128.4 L917.5,128.8 L918.5,129.3 L919.4,129.8 L920.4,130.2 L921.3,130.7 L922.2,131.2 L923.2,131.7 L924.1,132.1 L925,132.6 L926,133.1 L926.9,133.6 L927.9,134.2 L928.8,134.7 L929.7,135.2 L930.7,135.7 L931.6,136.3 L932.5,136.8 L933.5,137.3 L934.4,137.9 L935.3,138.5 L936.3,139 L937.2,139.6 L938.2,140.2 L939.1,140.8 L940,141.4 L941,142 L941.9,142.6 L942.8,143.2 L943.8,143.8 L944.7,144.5 L945.7,145.1 L946.6,145.7 L947.5,146.4 L948.5,147.1 L949.4,147.8 L950.3,148.4 L951.3,149.1 L952.2,149.8 L953.2,150.6 L954.1,151.3 L955,152 L956,152.8 L956.9,153.5 L957.8,154.3 L958.8,155.1 L959.7,155.9 L960.7,156.7 L961.6,157.5 L962.5,158.3 L963.5,159.1 L964.4,160 L965.3,160.8 L966.3,161.7 L967.2,162.6 L968.2,163.5 L969.1,164.4 L970,165.3 L971,166.2 L971.9,167.2 L972.8,168.1 L973.8,169.1 L974.7,170.1 L975.6,171.1 L976.6,172.1 L977.5,173.1 L978.5,174.1 L979.4,175.2 L980.3,176.2 L981.3,177.3 L982.2,178.4 L983.1,179.5 L984.1,180.6 L985,181.8 L986,182.9 L986.9,184.1 L987.8,185.2 L988.8,186.4 L989.7,187.6 L990.6,188.9 L991.6,190.1 L992.5,191.3 L993.5,192.6 L994.4,193.9 L995.3,195.2 L996.3,196.5 L997.2,197.8 L998.1,199.2 L999.1,200.5 L1000,201.9 L1001,203.3 L1001.9,204.7 L1002.8,206.1 L1003.8,207.5 L1004.7,209 L1005.6,210.5 L1006.6,211.9 L1007.5,213.4 L1008.5,215 L1009.4,216.5 L1010.3,218 L1011.3,219.6 L1012.2,221.2 L1013.1,222.8 L1014.1,224.4 L1015,226 L1015.9,227.7 L1016.9,229.3 L1017.8,231 L1018.8,232.7 L1019.7,234.4 L1020.6,236.1 L1021.6,237.9 L1022.5,239.7 L1023.4,241.4 L1024.4,243.2 L1025.3,245.1 L1026.3,246.9 L1027.2,248.7 L1028.1,250.6 L1029.1,252.5 L1030,254.4 L1030.9,256.3 L1031.9,258.3 L1032.8,260.2 L1033.8,262.2 L1034.7,264.2 L1035.6,266.2 L1036.6,268.2 L1037.5,270.3 L1038.4,272.4 L1039.4,274.4 L1040.3,276.5 L1041.3,278.7 L1042.2,280.8 L1043.1,283 L1044.1,285.1 L1045,287.3 L1045.9,289.6 L1046.9,291.8 L1047.8,294 L1048.8,296.3 L1049.7,298.6 L1050.6,300.9 L1051.6,303.2 L1052.5,305.5 L1053.4,307.9 L1054.4,310.3 L1055.3,312.6 L1056.3,315 L1057.2,317.5 L1058.1,319.9 L1059.1,322.3 L1060,324.8 L1060.9,327.3 L1061.9,329.8 L1062.8,332.3 L1063.7,334.8 L1064.7,337.4 L1065.6,339.9 L1066.6,342.5 L1067.5,345.1 L1068.4,347.7 L1069.4,350.3 L1070.3,352.9 L1071.2,355.5 L1072.2,358.2 L1073.1,360.9 L1074.1,363.5 L1075,366.2 L1075.9,368.9 L1076.9,371.6 L1077.8,374.3 L1078.7,377.1 L1079.7,379.8 L1080.6,382.5 L1081.6,385.3 L1082.5,388.1 L1083.4,390.8 L1084.4,393.6 L1085.3,396.4 L1086.2,399.2 L1087.2,402 L1088.1,404.8 L1089.1,407.6 L1090,410.5 L1090.9,413.3 L1091.9,416.1 L1092.8,419 L1093.7,421.8 L1094.7,424.7 L1095.6,427.5 L1096.6,430.4 L1097.5,433.3 L1098.4,436.1 L1099.4,439 L1100.3,441.9 L1101.2,444.8 L1102.2,447.7 L1103.1,450.6 L1104,453.5 L1105,456.4 L1105.9,459.3 L1106.9,462.2 L1107.8,465.1 L1108.7,468 L1109.7,470.9 L1110.6,473.9 L1111.5,476.8 L1112.5,479.7 L1113.4,482.6 L1114.4,485.6 L1115.3,488.5 L1116.2,491.4 L1117.2,494.4 L1118.1,497.3 L1119,500.2 L1120,503.2 L1120.9,506.1 L1121.9,509 L1122.8,512 L1123.7,514.9 L1124.7,517.8 L1125.6,520.8 L1126.5,523.7 L1127.5,526.7 L1128.4,529.6 L1129.4,532.5 L1130.3,535.5 L1131.2,538.4 L1132.2,541.4 L1133.1,544.3 L1134,547.3 L1135,550.2 L1135.9,553.1 L1136.9,556.1 L1137.8,559 L1138.7,562 L1139.7,564.9 L1140.6,567.8 L1141.5,570.8 L1142.5,573.7 L1143.4,576.6 L1144.3,579.6 L1145.3,582.5 L1146.2,585.5 L1147.2,588.4 L1148.1,591.3 L1149,594.3 L1150,597.2 L1150.9,600.1 L1151.8,603.1 L1152.8,606 L1153.7,608.9 L1154.7,611.8 L1155.6,614.8 L1156.5,617.7 L1157.5,620.6 L1158.4,623.5 L1159.3,626.5 L1160.3,629.4 L1161.2,632.3 L1162.2,635.2 L1163.1,638.2 L1164,641.1 L1165,644 L1165.9,646.9 L1166.8,649.8 L1167.8,652.7 L1168.7,655.7 L1169.7,658.6 L1170.6,661.5 L1171.5,664.4 L1172.5,667.3 L1173.4,670.2 L1174.3,673.1 L1175.3,676 L1176.2,678.9 L1177.2,681.8 L1178.1,684.7 L1179,687.6 L1180,690.5 L1180.9,693.4 L1181.8,696.3 L1182.8,699.2 L1183.7,702.1 L1184.7,705 L1185.6,707.9 L1186.5,710.8 L1187.5,713.7 L1188.4,716.6 L1189.3,719.5 L1190.3,722.4 L1191.2,725.3 L1192.1,728.2 L1193.1,731 L1194,733.9 L1195,736.8 L1195.9,739.7 L1196.8,742.6 L1197.8,745.5 L1198.7,748.3 L1199.6,751.2 L1200.6,754.1 L1201.5,757 L1202.5,759.8 L1203.4,762.7 L1204.3,765.6 L1205.3,768.5 L1206.2,771.3 L1207.1,774.2 L1208.1,777.1 L1209,779.9 L1210,782.8 L1210.9,785.7 L1211.8,788.6 L1212.8,791.4 L1213.7,794.3 L1214.6,797.1 L1215.6,800 L1216.5,802.9 L1217.5,805.7 L1218.4,808.6 L1219.3,811.4 L1220.3,814.3 L1221.2,817.2 L1222.1,820 L1223.1,822.9 L1224,825.7 L1225,828.6 L1225.9,831.4 L1226.8,834.3 L1227.8,837.1 L1228.7,840 L1229.6,842.8 L1230.6,845.7 L1231.5,848.5 L1232.4,851.4 L1233.4,854.2 L1234.3,857.1 L1235.3,859.9 L1236.2,862.7 L1237.1,865.6 L1238.1,868.4 L1239,871.3 L1239.9,874.1 L1240.9,877 L1241.8,879.8 L1242.8,882.6 L1243.7,885.5 L1244.6,888.3 L1245.6,891.1 L1246.5,894 L1247.4,896.8 L1248.4,899.6 L1249.3,902.5 L1250.3,905.3 L1251.2,908.1 L1252.1,911 L1253.1,913.8 L1254,916.6 L1254.9,919.5 L1255.9,922.3 L1256.8,925.1 L1257.8,927.9 L1258.7,930.8 L1259.6,933.6 L1260.6,936.4 L1261.5,939.2 L1262.4,942.1 L1263.4,944.9 L1264.3,947.7 L1265.3,950.5 L1266.2,953.3 L1267.1,956.2 L1268.1,959 L1269,961.8 L1269.9,964.6" stroke="#0000ff" stroke-width="2.9"/>
<path d="M249.3,66.7 L260.7,78.5 L249.3,90.3 L237.9,78.5 Z M436.6,67 L448,78.8 L436.6,90.6 L425.2,78.8 Z M623.9,69 L635.3,80.8 L623.9,92.6 L612.5,80.8 Z M811.3,84.3 L822.7,96.1 L811.3,107.9 L799.9,96.1 Z M998.6,188 L1010,199.8 L998.6,211.6 L987.2,199.8 Z M1185.9,697.1 L1197.3,708.9 L1185.9,720.7 L1174.5,708.9 Z" stroke="#0000ff" stroke-width="3" stroke-linejoin="miter"/>
<path d="M249.3,81.4 L250.2,81.4 L251.2,81.4 L252.1,81.4 L253,81.4 L254,81.4 L254.9,81.4 L255.9,81.4 L256.8,81.4 L257.7,81.4 L258.7,81.4 L259.6,81.4 L260.5,81.4 L261.5,81.4 L262.4,81.4 L263.4,81.4 L264.3,81.4 L265.2,81.4 L266.2,81.4 L267.1,81.4 L268,81.4 L269,81.4 L269.9,81.4 L270.9,81.4 L271.8,81.4 L272.7,81.4 L273.7,81.4 L274.6,81.4 L275.5,81.4 L276.5,81.4 L277.4,81.4 L278.4,81.4 L279.3,81.4 L280.2,81.4 L281.2,81.4 L282.1,81.4 L283,81.4 L284,81.4 L284.9,81.4 L285.9,81.4 L286.8,81.4 L287.7,81.4 L288.7,81.4 L289.6,81.4 L290.5,81.4 L291.5,81.4 L292.4,81.4 L293.3,81.4 L294.3,81.4 L295.2,81.4 L296.2,81.4 L297.1,81.4 L298,81.4 L299,81.4 L299.9,81.4 L300.8,81.4 L301.8,81.4 L302.7,81.4 L303.7,81.4 L304.6,81.4 L305.5,81.4 L306.5,81.4 L307.4,81.4 L308.3,81.4 L309.3,81.4 L310.2,81.4 L311.2,81.4 L312.1,81.4 L313,81.4 L314,81.4 L314.9,81.4 L315.8,81.4 L316.8,81.4 L317.7,81.4 L318.7,81.4 L319.6,81.4 L320.5,81.4 L321.5,81.4 L322.4,81.4 L323.3,81.4 L324.3,81.4 L325.2,81.4 L326.2,81.4 L327.1,81.4 L328,81.4 L329,81.4 L329.9,81.4 L330.8,81.4 L331.8,81.4 L332.7,81.4 L333.7,81.4 L334.6,81.4 L335.5,81.4 L336.5,81.4 L337.4,81.4 L338.3,81.4 L339.3,81.4 L340.2,81.4 L341.1,81.4 L342.1,81.4 L343,81.4 L344,81.4 L344.9,81.4 L345.8,81.4 L346.8,81.4 L347.7,81.4 L348.6,81.4 L349.6,81.4 L350.5,81.4 L351.5,81.4 L352.4,81.4 L353.3,81.4 L354.3,81.4 L355.2,81.4 L356.1,81.4 L357.1,81.4 L358,81.4 L359,81.4 L359.9,81.4 L360.8,81.4 L361.8,81.4 L362.7,81.4 L363.6,81.4 L364.6,81.4 L365.5,81.4 L366.5,81.4 L367.4,81.4 L368.3,81.4 L369.3,81.4 L370.2,81.4 L371.1,81.4 L372.1,81.4 L373,81.4 L374,81.4 L374.9,81.4 L375.8,81.4 L376.8,81.4 L377.7,81.4 L378.6,81.4 L379.6,81.4 L380.5,81.4 L381.4,81.4 L382.4,81.4 L383.3,81.4 L384.3,81.4 L385.2,81.4 L386.1,81.4 L387.1,81.4 L388,81.4 L388.9,81.4 L389.9,81.4 L390.8,81.4 L391.8,81.4 L392.7,81.4 L393.6,81.4 L394.6,81.4 L395.5,81.4 L396.4,81.4 L397.4,81.4 L398.3,81.4 L399.3,81.4 L400.2,81.4 L401.1,81.4 L402.1,81.4 L403,81.4 L403.9,81.4 L404.9,81.4 L405.8,81.4 L406.8,81.4 L407.7,81.4 L408.6,81.4 L409.6,81.4 L410.5,81.4 L411.4,81.4 L412.4,81.4 L413.3,81.4 L414.3,81.4 L415.2,81.4 L416.1,81.4 L417.1,81.4 L418,81.4 L418.9,81.4 L419.9,81.4 L420.8,81.4 L421.7,81.4 L422.7,81.4 L423.6,81.4 L424.6,81.4 L425.5,81.4 L426.4,81.4 L427.4,81.4 L428.3,81.4 L429.2,81.4 L430.2,81.4 L431.1,81.4 L432.1,81.4 L433,81.4 L433.9,81.4 L434.9,81.4 L435.8,81.4 L436.7,81.4 L437.7,81.4 L438.6,81.4 L439.6,81.4 L440.5,81.4 L441.4,81.4 L442.4,81.4 L443.3,81.4 L444.2,81.4 L445.2,81.4 L446.1,81.4 L447.1,81.4 L448,81.4 L448.9,81.4 L449.9,81.4 L450.8,81.4 L451.7,81.4 L452.7,81.4 L453.6,81.4 L454.6,81.4 L455.5,81.4 L456.4,81.4 L457.4,81.4 L458.3,81.4 L459.2,81.4 L460.2,81.4 L461.1,81.4 L462.1,81.4 L463,81.4 L463.9,81.4 L464.9,81.4 L465.8,81.4 L466.7,81.4 L467.7,81.4 L468.6,81.4 L469.5,81.4 L470.5,81.4 L471.4,81.4 L472.4,81.4 L473.3,81.4 L474.2,81.4 L475.2,81.4 L476.1,81.4 L477,81.4 L478,81.4 L478.9,81.4 L479.9,81.4 L480.8,81.4 L481.7,81.4 L482.7,81.4 L483.6,81.4 L484.5,81.4 L485.5,81.4 L486.4,81.4 L487.4,81.4 L488.3,81.4 L489.2,81.4 L490.2,81.4 L491.1,81.4 L492,81.4 L493,81.4 L493.9,81.4 L494.9,81.4 L495.8,81.4 L496.7,81.4 L497.7,81.4 L498.6,81.4 L499.5,81.4 L500.5,81.4 L501.4,81.4 L502.4,81.4 L503.3,81.4 L504.2,81.4 L505.2,81.4 L506.1,81.4 L507,81.4 L508,81.4 L508.9,81.4 L509.8,81.4 L510.8,81.4 L511.7,81.4 L512.7,81.4 L513.6,81.4 L514.5,81.4 L515.5,81.4 L516.4,81.4 L517.3,81.4 L518.3,81.4 L519.2,81.4 L520.2,81.4 L521.1,81.4 L522,81.4 L523,81.4 L523.9,81.4 L524.8,81.4 L525.8,81.4 L526.7,81.4 L527.7,81.4 L528.6,81.4 L529.5,81.4 L530.5,81.4 L531.4,81.4 L532.3,81.4 L533.3,81.4 L534.2,81.4 L535.2,81.4 L536.1,81.4 L537,81.4 L538,81.4 L538.9,81.4 L539.8,81.4 L540.8,81.4 L541.7,81.4 L542.7,81.4 L543.6,81.4 L544.5,81.4 L545.5,81.4 L546.4,81.4 L547.3,81.4 L548.3,81.4 L549.2,81.4 L550.1,81.4 L551.1,81.4 L552,81.4 L553,81.4 L553.9,81.4 L554.8,81.4 L555.8,81.4 L556.7,81.4 L557.6,81.4 L558.6,81.4 L559.5,81.4 L560.5,81.4 L561.4,81.4 L562.3,81.4 L563.3,81.4 L564.2,81.4 L565.1,81.4 L566.1,81.4 L567,81.4 L568,81.4 L568.9,81.4 L569.8,81.4 L570.8,81.4 L571.7,81.4 L572.6,81.4 L573.6,81.4 L574.5,81.4 L575.5,81.4 L576.4,81.4 L577.3,81.4 L578.3,81.4 L579.2,81.4 L580.1,81.4 L581.1,81.4 L582,81.4 L583,81.4 L583.9,81.4 L584.8,81.4 L585.8,81.4 L586.7,81.4 L587.6,81.4 L588.6,81.4 L589.5,81.4 L590.4,81.4 L591.4,81.4 L592.3,81.4 L593.3,81.4 L594.2,81.4 L595.1,81.4 L596.1,81.4 L597,81.4 L597.9,81.4 L598.9,81.4 L599.8,81.4 L600.8,81.4 L601.7,81.5 L602.6,81.5 L603.6,81.5 L604.5,81.5 L605.4,81.6 L606.4,81.6 L607.3,81.6 L608.3,81.7 L609.2,81.7 L610.1,81.7 L611.1,81.8 L612,81.8 L612.9,81.8 L613.9,81.9 L614.8,81.9 L615.8,81.9 L616.7,82 L617.6,82 L618.6,82 L619.5,82.1 L620.4,82.1 L621.4,82.1 L622.3,82.2 L623.3,82.2 L624.2,82.2 L625.1,82.3 L626.1,82.3 L627,82.4 L627.9,82.4 L628.9,82.4 L629.8,82.5 L630.8,82.5 L631.7,82.6 L632.6,82.6 L633.6,82.6 L634.5,82.7 L635.4,82.7 L636.4,82.8 L637.3,82.8 L638.2,82.8 L639.2,82.9 L640.1,82.9 L641.1,83 L642,83 L642.9,83.1 L643.9,83.1 L644.8,83.2 L645.7,83.2 L646.7,83.2 L647.6,83.3 L648.6,83.3 L649.5,83.4 L650.4,83.4 L651.4,83.5 L652.3,83.5 L653.2,83.6 L654.2,83.6 L655.1,83.7 L656.1,83.7 L657,83.8 L657.9,83.8 L658.9,83.9 L659.8,84 L660.7,84 L661.7,84.1 L662.6,84.1 L663.6,84.2 L664.5,84.2 L665.4,84.3 L666.4,84.3 L667.3,84.4 L668.2,84.5 L669.2,84.5 L670.1,84.6 L671.1,84.6 L672,84.7 L672.9,84.8 L673.9,84.8 L674.8,84.9 L675.7,85 L676.7,85 L677.6,85.1 L678.5,85.2 L679.5,85.2 L680.4,85.3 L681.4,85.4 L682.3,85.4 L683.2,85.5 L684.2,85.6 L685.1,85.6 L686,85.7 L687,85.8 L687.9,85.8 L688.9,85.9 L689.8,86 L690.7,86.1 L691.7,86.1 L692.6,86.2 L693.5,86.3 L694.5,86.4 L695.4,86.5 L696.4,86.5 L697.3,86.6 L698.2,86.7 L699.2,86.8 L700.1,86.9 L701,87 L702,87 L702.9,87.1 L703.9,87.2 L704.8,87.3 L705.7,87.4 L706.7,87.5 L707.6,87.6 L708.5,87.7 L709.5,87.8 L710.4,87.8 L711.4,87.9 L712.3,88 L713.2,88.1 L714.2,88.2 L715.1,88.3 L716,88.4 L717,88.5 L717.9,88.6 L718.8,88.7 L719.8,88.8 L720.7,88.9 L721.7,89 L722.6,89.1 L723.5,89.3 L724.5,89.4 L725.4,89.5 L726.3,89.6 L727.3,89.7 L728.2,89.8 L729.2,89.9 L730.1,90 L731,90.2 L732,90.3 L732.9,90.4 L733.8,90.5 L734.8,90.6 L735.7,90.8 L736.7,90.9 L737.6,91 L738.5,91.1 L739.5,91.3 L740.4,91.4 L741.3,91.5 L742.3,91.7 L743.2,91.8 L744.2,91.9 L745.1,92.1 L746,92.2 L747,92.3 L747.9,92.5 L748.8,92.6 L749.8,92.8 L750.7,92.9 L751.7,93.1 L752.6,93.2 L753.5,93.4 L754.5,93.5 L755.4,93.7 L756.3,93.8 L757.3,94 L758.2,94.1 L759.2,94.3 L760.1,94.5 L761,94.6 L762,94.8 L762.9,95 L763.8,95.1 L764.8,95.3 L765.7,95.5 L766.6,95.6 L767.6,95.8 L768.5,96 L769.5,96.2 L770.4,96.3 L771.3,96.5 L772.3,96.7 L773.2,96.9 L774.1,97.1 L775.1,97.3 L776,97.5 L777,97.7 L777.9,97.8 L778.8,98 L779.8,98.2 L780.7,98.4 L781.6,98.6 L782.6,98.9 L783.5,99.1 L784.5,99.3 L785.4,99.5 L786.3,99.7 L787.3,99.9 L788.2,100.1 L789.1,100.3 L790.1,100.6 L791,100.8 L792,101 L792.9,101.2 L793.8,101.5 L794.8,101.7 L795.7,101.9 L796.6,102.2 L797.6,102.4 L798.5,102.7 L799.5,102.9 L800.4,103.2 L801.3,103.4 L802.3,103.7 L803.2,103.9 L804.1,104.2 L805.1,104.4 L806,104.7 L806.9,105 L807.9,105.2 L808.8,105.5 L809.8,105.8 L810.7,106 L811.6,106.3 L812.6,106.6 L813.5,106.9 L814.4,107.2 L815.4,107.5 L816.3,107.8 L817.3,108.1 L818.2,108.3 L819.1,108.6 L820.1,108.9 L821,109.3 L821.9,109.6 L822.9,109.9 L823.8,110.2 L824.8,110.5 L825.7,110.8 L826.6,111.1 L827.6,111.5 L828.5,111.8 L829.4,112.1 L830.4,112.5 L831.3,112.8 L832.3,113.1 L833.2,113.5 L834.1,113.8 L835.1,114.2 L836,114.5 L836.9,114.9 L837.9,115.3 L838.8,115.6 L839.8,116 L840.7,116.4 L841.6,116.7 L842.6,117.1 L843.5,117.5 L844.4,117.9 L845.4,118.3 L846.3,118.7 L847.2,119 L848.2,119.4 L849.1,119.8 L850.1,120.2 L851,120.7 L851.9,121.1 L852.9,121.5 L853.8,121.9 L854.7,122.3 L855.7,122.7 L856.6,123.2 L857.6,123.6 L858.5,124 L859.4,124.5 L860.4,124.9 L861.3,125.4 L862.2,125.8 L863.2,126.3 L864.1,126.7 L865.1,127.2 L866,127.7 L866.9,128.1 L867.9,128.6 L868.8,129.1 L869.7,129.6 L870.7,130.1 L871.6,130.6 L872.6,131.1 L873.5,131.6 L874.4,132.1 L875.4,132.6 L876.3,133.1 L877.2,133.6 L878.2,134.1 L879.1,134.6 L880.1,135.2 L881,135.7 L881.9,136.2 L882.9,136.8 L883.8,137.3 L884.7,137.9 L885.7,138.4 L886.6,139 L887.6,139.6 L888.5,140.1 L889.4,140.7 L890.4,141.3 L891.3,141.9 L892.2,142.5 L893.2,143.1 L894.1,143.7 L895,144.3 L896,144.9 L896.9,145.5 L897.9,146.1 L898.8,146.7 L899.7,147.4 L900.7,148 L901.6,148.6 L902.5,149.3 L903.5,149.9 L904.4,150.6 L905.4,151.2 L906.3,151.9 L907.2,152.6 L908.2,153.3 L909.1,154 L910,154.6 L911,155.3 L911.9,156 L912.9,156.8 L913.8,157.5 L914.7,158.2 L915.7,158.9 L916.6,159.7 L917.5,160.4 L918.5,161.1 L919.4,161.9 L920.4,162.7 L921.3,163.4 L922.2,164.2 L923.2,165 L924.1,165.8 L925,166.6 L926,167.4 L926.9,168.2 L927.9,169 L928.8,169.8 L929.7,170.7 L930.7,171.5 L931.6,172.3 L932.5,173.2 L933.5,174.1 L934.4,174.9 L935.3,175.8 L936.3,176.7 L937.2,177.6 L938.2,178.5 L939.1,179.4 L940,180.4 L941,181.3 L941.9,182.2 L942.8,183.2 L943.8,184.1 L944.7,185.1 L945.7,186.1 L946.6,187.1 L947.5,188.1 L948.5,189.1 L949.4,190.1 L950.3,191.1 L951.3,192.2 L952.2,193.2 L953.2,194.3 L954.1,195.4 L955,196.4 L956,197.5 L956.9,198.6 L957.8,199.7 L958.8,200.9 L959.7,202 L960.7,203.1 L961.6,204.3 L962.5,205.5 L963.5,206.6 L964.4,207.8 L965.3,209 L966.3,210.2 L967.2,211.5 L968.2,212.7 L969.1,214 L970,215.2 L971,216.5 L971.9,217.8 L972.8,219.1 L973.8,220.4 L974.7,221.7 L975.6,223 L976.6,224.4 L977.5,225.7 L978.5,227.1 L979.4,228.5 L980.3,229.8 L981.3,231.2 L982.2,232.7 L983.1,234.1 L984.1,235.5 L985,237 L986,238.4 L986.9,239.9 L987.8,241.4 L988.8,242.9 L989.7,244.4 L990.6,245.9 L991.6,247.4 L992.5,248.9 L993.5,250.5 L994.4,252.1 L995.3,253.6 L996.3,255.2 L997.2,256.8 L998.1,258.4 L999.1,260 L1000,261.6 L1001,263.3 L1001.9,264.9 L1002.8,266.6 L1003.8,268.2 L1004.7,269.9 L1005.6,271.6 L1006.6,273.3 L1007.5,275 L1008.5,276.7 L1009.4,278.4 L1010.3,280.1 L1011.3,281.9 L1012.2,283.6 L1013.1,285.4 L1014.1,287.1 L1015,288.9 L1015.9,290.7 L1016.9,292.5 L1017.8,294.3 L1018.8,296.1 L1019.7,297.9 L1020.6,299.7 L1021.6,301.5 L1022.5,303.3 L1023.4,305.2 L1024.4,307 L1025.3,308.9 L1026.3,310.7 L1027.2,312.6 L1028.1,314.4 L1029.1,316.3 L1030,318.2 L1030.9,320.1 L1031.9,322 L1032.8,323.9 L1033.8,325.8 L1034.7,327.7 L1035.6,329.6 L1036.6,331.5 L1037.5,333.4 L1038.4,335.3 L1039.4,337.3 L1040.3,339.2 L1041.3,341.1 L1042.2,343.1 L1043.1,345 L1044.1,347 L1045,348.9 L1045.9,350.9 L1046.9,352.9 L1047.8,354.8 L1048.8,356.8 L1049.7,358.8 L1050.6,360.8 L1051.6,362.7 L1052.5,364.7 L1053.4,366.7 L1054.4,368.7 L1055.3,370.7 L1056.3,372.7 L1057.2,374.7 L1058.1,376.7 L1059.1,378.7 L1060,380.7 L1060.9,382.7 L1061.9,384.7 L1062.8,386.7 L1063.7,388.7 L1064.7,390.8 L1065.6,392.8 L1066.6,394.8 L1067.5,396.8 L1068.4,398.8 L1069.4,400.9 L1070.3,402.9 L1071.2,404.9 L1072.2,407 L1073.1,409 L1074.1,411 L1075,413.1 L1075.9,415.1 L1076.9,417.1 L1077.8,419.2 L1078.7,421.2 L1079.7,423.3 L1080.6,425.3 L1081.6,427.4 L1082.5,429.4 L1083.4,431.5 L1084.4,433.5 L1085.3,435.6 L1086.2,437.6 L1087.2,439.7 L1088.1,441.7 L1089.1,443.8 L1090,445.8 L1090.9,447.9 L1091.9,449.9 L1092.8,452 L1093.7,454.1 L1094.7,456.1 L1095.6,458.2 L1096.6,460.2 L1097.5,462.3 L1098.4,464.4 L1099.4,466.4 L1100.3,468.5 L1101.2,470.6 L1102.2,472.6 L1103.1,474.7 L1104,476.8 L1105,478.8 L1105.9,480.9 L1106.9,483 L1107.8,485 L1108.7,487.1 L1109.7,489.2 L1110.6,491.2 L1111.5,493.3 L1112.5,495.4 L1113.4,497.4 L1114.4,499.5 L1115.3,501.6 L1116.2,503.7 L1117.2,505.7 L1118.1,507.8 L1119,509.9 L1120,512 L1120.9,514 L1121.9,516.1 L1122.8,518.2 L1123.7,520.2 L1124.7,522.3 L1125.6,524.4 L1126.5,526.5 L1127.5,528.5 L1128.4,530.6 L1129.4,532.7 L1130.3,534.8 L1131.2,536.8 L1132.2,538.9 L1133.1,541 L1134,543.1 L1135,545.1 L1135.9,547.2 L1136.9,549.3 L1137.8,551.4 L1138.7,553.5 L1139.7,555.5 L1140.6,557.6 L1141.5,559.7 L1142.5,561.8 L1143.4,563.8 L1144.3,565.9 L1145.3,568 L1146.2,570.1 L1147.2,572.1 L1148.1,574.2 L1149,576.3 L1150,578.4 L1150.9,580.5 L1151.8,582.5 L1152.8,584.6 L1153.7,586.7 L1154.7,588.8 L1155.6,590.8 L1156.5,592.9 L1157.5,595 L1158.4,597.1 L1159.3,599.1 L1160.3,601.2 L1161.2,603.3 L1162.2,605.4 L1163.1,607.5 L1164,609.5 L1165,611.6 L1165.9,613.7 L1166.8,615.8 L1167.8,617.8 L1168.7,619.9 L1169.7,622 L1170.6,624.1 L1171.5,626.1 L1172.5,628.2 L1173.4,630.3 L1174.3,632.4 L1175.3,634.5 L1176.2,636.5 L1177.2,638.6 L1178.1,640.7 L1179,642.8 L1180,644.8 L1180.9,646.9 L1181.8,649 L1182.8,651.1 L1183.7,653.1 L1184.7,655.2 L1185.6,657.3 L1186.5,659.4 L1187.5,661.5 L1188.4,663.5 L1189.3,665.6 L1190.3,667.7 L1191.2,669.8 L1192.1,671.8 L1193.1,673.9 L1194,676 L1195,678.1 L1195.9,680.1 L1196.8,682.2 L1197.8,684.3 L1198.7,686.4 L1199.6,688.4 L1200.6,690.5 L1201.5,692.6 L1202.5,694.7 L1203.4,696.7 L1204.3,698.8 L1205.3,700.9 L1206.2,703 L1207.1,705 L1208.1,707.1 L1209,709.2 L1210,711.3 L1210.9,713.3 L1211.8,715.4 L1212.8,717.5 L1213.7,719.6 L1214.6,721.6 L1215.6,723.7 L1216.5,725.8 L1217.5,727.9 L1218.4,729.9 L1219.3,732 L1220.3,734.1 L1221.2,736.2 L1222.1,738.2 L1223.1,740.3 L1224,742.4 L1225,744.5 L1225.9,746.5 L1226.8,748.6 L1227.8,750.7 L1228.7,752.7 L1229.6,754.8 L1230.6,756.9 L1231.5,759 L1232.4,761 L1233.4,763.1 L1234.3,765.2 L1235.3,767.3 L1236.2,769.3 L1237.1,771.4 L1238.1,773.5 L1239,775.6 L1239.9,777.6 L1240.9,779.7 L1241.8,781.8 L1242.8,783.8 L1243.7,785.9 L1244.6,788 L1245.6,790.1 L1246.5,792.1 L1247.4,794.2 L1248.4,796.3 L1249.3,798.3 L1250.3,800.4 L1251.2,802.5 L1252.1,804.6 L1253.1,806.6 L1254,808.7 L1254.9,810.8 L1255.9,812.9 L1256.8,814.9 L1257.8,817 L1258.7,819.1 L1259.6,821.1 L1260.6,823.2 L1261.5,825.3 L1262.4,827.4 L1263.4,829.4 L1264.3,831.5 L1265.3,833.6 L1266.2,835.6 L1267.1,837.7 L1268.1,839.8 L1269,841.9 L1269.9,843.9 L1270.9,846 L1271.8,848.1 L1272.7,850.1 L1273.7,852.2 L1274.6,854.3 L1275.6,856.3 L1276.5,858.4 L1277.4,860.5 L1278.4,862.6 L1279.3,864.6 L1280.2,866.7 L1281.2,868.8 L1282.1,870.8 L1283.1,872.9 L1284,875 L1284.9,877 L1285.9,879.1 L1286.8,881.2 L1287.7,883.3 L1288.7,885.3 L1289.6,887.4 L1290.6,889.5 L1291.5,891.5 L1292.4,893.6 L1293.4,895.7 L1294.3,897.7 L1295.2,899.8 L1296.2,901.9 L1297.1,904 L1298.1,906 L1299,908.1 L1299.9,910.2 L1300.9,912.2 L1301.8,914.3 L1302.7,916.4 L1303.7,918.4 L1304.6,920.5 L1305.6,922.6 L1306.5,924.6 L1307.4,926.7 L1308.4,928.8 L1309.3,930.9 L1310.2,932.9 L1311.2,935 L1312.1,937.1 L1313.1,939.1 L1314,941.2 L1314.9,943.3 L1315.9,945.3 L1316.8,947.4 L1317.7,949.5 L1318.7,951.5 L1319.6,953.6 L1320.5,955.7 L1321.5,957.7 L1322.4,959.8 L1323.4,961.9 L1324.3,964" stroke="#008000" stroke-width="2.9"/>
<path d="M236.5,65.7 h25.6 v25.6 h-25.6 Z M423.8,66.2 h25.6 v25.6 h-25.6 Z M611.1,69.4 h25.6 v25.6 h-25.6 Z M798.5,93.4 h25.6 v25.6 h-25.6 Z M985.8,246.4 h25.6 v25.6 h-25.6 Z M1173.1,645.2 h25.6 v25.6 h-25.6 Z" stroke="#008000" stroke-width="3" stroke-linejoin="miter"/>
<path d="M249.3,81.4 L250.2,81.4 L251.2,81.4 L252.1,81.4 L253,81.4 L254,81.4 L254.9,81.4 L255.9,81.4 L256.8,81.4 L257.7,81.4 L258.7,81.4 L259.6,81.4 L260.5,81.4 L261.5,81.4 L262.4,81.4 L263.4,81.4 L264.3,81.4 L265.2,81.4 L266.2,81.4 L267.1,81.4 L268,81.4 L269,81.4 L269.9,81.4 L270.9,81.4 L271.8,81.4 L272.7,81.4 L273.7,81.4 L274.6,81.4 L275.5,81.4 L276.5,81.4 L277.4,81.4 L278.4,81.4 L279.3,81.4 L280.2,81.4 L281.2,81.4 L282.1,81.4 L283,81.4 L284,81.4 L284.9,81.4 L285.9,81.4 L286.8,81.4 L287.7,81.4 L288.7,81.4 L289.6,81.4 L290.5,81.4 L291.5,81.4 L292.4,81.4 L293.3,81.4 L294.3,81.4 L295.2,81.4 L296.2,81.4 L297.1,81.4 L298,81.4 L299,81.4 L299.9,81.4 L300.8,81.4 L301.8,81.4 L302.7,81.4 L303.7,81.4 L304.6,81.4 L305.5,81.4 L306.5,81.4 L307.4,81.4 L308.3,81.4 L309.3,81.4 L310.2,81.4 L311.2,81.4 L312.1,81.4 L313,81.4 L314,81.4 L314.9,81.4 L315.8,81.4 L316.8,81.4 L317.7,81.4 L318.7,81.4 L319.6,81.4 L320.5,81.4 L321.5,81.4 L322.4,81.4 L323.3,81.4 L324.3,81.4 L325.2,81.4 L326.2,81.4 L327.1,81.4 L328,81.4 L329,81.4 L329.9,81.4 L330.8,81.4 L331.8,81.4 L332.7,81.4 L333.7,81.4 L334.6,81.4 L335.5,81.4 L336.5,81.4 L337.4,81.4 L338.3,81.4 L339.3,81.4 L340.2,81.4 L341.1,81.4 L342.1,81.4 L343,81.4 L344,81.4 L344.9,81.4 L345.8,81.4 L346.8,81.4 L347.7,81.4 L348.6,81.4 L349.6,81.4 L350.5,81.4 L351.5,81.4 L352.4,81.4 L353.3,81.4 L354.3,81.4 L355.2,81.4 L356.1,81.4 L357.1,81.4 L358,81.4 L359,81.4 L359.9,81.4 L360.8,81.4 L361.8,81.4 L362.7,81.4 L363.6,81.4 L364.6,81.4 L365.5,81.4 L366.5,81.4 L367.4,81.4 L368.3,81.4 L369.3,81.4 L370.2,81.4 L371.1,81.4 L372.1,81.4 L373,81.4 L374,81.4 L374.9,81.4 L375.8,81.4 L376.8,81.4 L377.7,81.4 L378.6,81.4 L379.6,81.4 L380.5,81.4 L381.4,81.4 L382.4,81.4 L383.3,81.4 L384.3,81.4 L385.2,81.4 L386.1,81.4 L387.1,81.4 L388,81.4 L388.9,81.4 L389.9,81.4 L390.8,81.4 L391.8,81.4 L392.7,81.4 L393.6,81.4 L394.6,81.4 L395.5,81.4 L396.4,81.4 L397.4,81.4 L398.3,81.4 L399.3,81.4 L400.2,81.4 L401.1,81.4 L402.1,81.4 L403,81.4 L403.9,81.4 L404.9,81.4 L405.8,81.4 L406.8,81.4 L407.7,81.4 L408.6,81.4 L409.6,81.4 L410.5,81.4 L411.4,81.4 L412.4,81.4 L413.3,81.4 L414.3,81.4 L415.2,81.4 L416.1,81.4 L417.1,81.4 L418,81.4 L418.9,81.4 L419.9,81.4 L420.8,81.4 L421.7,81.4 L422.7,81.4 L423.6,81.4 L424.6,81.4 L425.5,81.4 L426.4,81.4 L427.4,81.4 L428.3,81.4 L429.2,81.4 L430.2,81.4 L431.1,81.4 L432.1,81.4 L433,81.4 L433.9,81.4 L434.9,81.4 L435.8,81.4 L436.7,81.4 L437.7,81.4 L438.6,81.4 L439.6,81.4 L440.5,81.4 L441.4,81.4 L442.4,81.4 L443.3,81.4 L444.2,81.4 L445.2,81.4 L446.1,81.4 L447.1,81.4 L448,81.4 L448.9,81.4 L449.9,81.4 L450.8,81.4 L451.7,81.4 L452.7,81.4 L453.6,81.4 L454.6,81.4 L455.5,81.4 L456.4,81.4 L457.4,81.4 L458.3,81.4 L459.2,81.4 L460.2,81.4 L461.1,81.4 L462.1,81.4 L463,81.4 L463.9,81.4 L464.9,81.4 L465.8,81.4 L466.7,81.4 L467.7,81.4 L468.6,81.4 L469.5,81.4 L470.5,81.4 L471.4,81.4 L472.4,81.4 L473.3,81.4 L474.2,81.4 L475.2,81.4 L476.1,81.4 L477,81.4 L478,81.4 L478.9,81.4 L479.9,81.4 L480.8,81.4 L481.7,81.4 L482.7,81.4 L483.6,81.4 L484.5,81.4 L485.5,81.4 L486.4,81.4 L487.4,81.4 L488.3,81.4 L489.2,81.4 L490.2,81.4 L491.1,81.4 L492,81.4 L493,81.4 L493.9,81.4 L494.9,81.4 L495.8,81.4 L496.7,81.4 L497.7,81.4 L498.6,81.4 L499.5,81.4 L500.5,81.4 L501.4,81.4 L502.4,81.4 L503.3,81.4 L504.2,81.4 L505.2,81.4 L506.1,81.4 L507,81.4 L508,81.4 L508.9,81.4 L509.8,81.4 L510.8,81.4 L511.7,81.4 L512.7,81.4 L513.6,81.4 L514.5,81.4 L515.5,81.4 L516.4,81.5 L517.3,81.5 L518.3,81.5 L519.2,81.5 L520.2,81.6 L521.1,81.6 L522,81.6 L523,81.7 L523.9,81.7 L524.8,81.7 L525.8,81.7 L526.7,81.8 L527.7,81.8 L528.6,81.8 L529.5,81.9 L530.5,81.9 L531.4,81.9 L532.3,82 L533.3,82 L534.2,82 L535.2,82.1 L536.1,82.1 L537,82.1 L538,82.2 L538.9,82.2 L539.8,82.2 L540.8,82.3 L541.7,82.3 L542.7,82.3 L543.6,82.4 L544.5,82.4 L545.5,82.4 L546.4,82.5 L547.3,82.5 L548.3,82.6 L549.2,82.6 L550.1,82.6 L551.1,82.7 L552,82.7 L553,82.8 L553.9,82.8 L554.8,82.8 L555.8,82.9 L556.7,82.9 L557.6,83 L558.6,83 L559.5,83 L560.5,83.1 L561.4,83.1 L562.3,83.2 L563.3,83.2 L564.2,83.2 L565.1,83.3 L566.1,83.3 L567,83.4 L568,83.4 L568.9,83.5 L569.8,83.5 L570.8,83.6 L571.7,83.6 L572.6,83.7 L573.6,83.7 L574.5,83.8 L575.5,83.8 L576.4,83.9 L577.3,83.9 L578.3,84 L579.2,84 L580.1,84.1 L581.1,84.1 L582,84.2 L583,84.2 L583.9,84.3 L584.8,84.3 L585.8,84.4 L586.7,84.4 L587.6,84.5 L588.6,84.5 L589.5,84.6 L590.4,84.6 L591.4,84.7 L592.3,84.8 L593.3,84.8 L594.2,84.9 L595.1,84.9 L596.1,85 L597,85 L597.9,85.1 L598.9,85.2 L599.8,85.2 L600.8,85.3 L601.7,85.3 L602.6,85.4 L603.6,85.5 L604.5,85.5 L605.4,85.6 L606.4,85.7 L607.3,85.7 L608.3,85.8 L609.2,85.9 L610.1,85.9 L611.1,86 L612,86.1 L612.9,86.1 L613.9,86.2 L614.8,86.3 L615.8,86.3 L616.7,86.4 L617.6,86.5 L618.6,86.6 L619.5,86.6 L620.4,86.7 L621.4,86.8 L622.3,86.9 L623.3,86.9 L624.2,87 L625.1,87.1 L626.1,87.2 L627,87.2 L627.9,87.3 L628.9,87.4 L629.8,87.5 L630.8,87.6 L631.7,87.6 L632.6,87.7 L633.6,87.8 L634.5,87.9 L635.4,88 L636.4,88.1 L637.3,88.1 L638.2,88.2 L639.2,88.3 L640.1,88.4 L641.1,88.5 L642,88.6 L642.9,88.7 L643.9,88.8 L644.8,88.9 L645.7,88.9 L646.7,89 L647.6,89.1 L648.6,89.2 L649.5,89.3 L650.4,89.4 L651.4,89.5 L652.3,89.6 L653.2,89.7 L654.2,89.8 L655.1,89.9 L656.1,90 L657,90.1 L657.9,90.2 L658.9,90.3 L659.8,90.4 L660.7,90.5 L661.7,90.7 L662.6,90.8 L663.6,90.9 L664.5,91 L665.4,91.1 L666.4,91.2 L667.3,91.3 L668.2,91.4 L669.2,91.5 L670.1,91.7 L671.1,91.8 L672,91.9 L672.9,92 L673.9,92.1 L674.8,92.3 L675.7,92.4 L676.7,92.5 L677.6,92.6 L678.5,92.7 L679.5,92.9 L680.4,93 L681.4,93.1 L682.3,93.3 L683.2,93.4 L684.2,93.5 L685.1,93.7 L686,93.8 L687,93.9 L687.9,94.1 L688.9,94.2 L689.8,94.3 L690.7,94.5 L691.7,94.6 L692.6,94.8 L693.5,94.9 L694.5,95 L695.4,95.2 L696.4,95.3 L697.3,95.5 L698.2,95.6 L699.2,95.8 L700.1,95.9 L701,96.1 L702,96.2 L702.9,96.4 L703.9,96.6 L704.8,96.7 L705.7,96.9 L706.7,97 L707.6,97.2 L708.5,97.4 L709.5,97.5 L710.4,97.7 L711.4,97.9 L712.3,98 L713.2,98.2 L714.2,98.4 L715.1,98.5 L716,98.7 L717,98.9 L717.9,99.1 L718.8,99.2 L719.8,99.4 L720.7,99.6 L721.7,99.8 L722.6,100 L723.5,100.2 L724.5,100.4 L725.4,100.5 L726.3,100.7 L727.3,100.9 L728.2,101.1 L729.2,101.3 L730.1,101.5 L731,101.7 L732,101.9 L732.9,102.1 L733.8,102.3 L734.8,102.5 L735.7,102.7 L736.7,103 L737.6,103.2 L738.5,103.4 L739.5,103.6 L740.4,103.8 L741.3,104 L742.3,104.2 L743.2,104.5 L744.2,104.7 L745.1,104.9 L746,105.2 L747,105.4 L747.9,105.6 L748.8,105.8 L749.8,106.1 L750.7,106.3 L751.7,106.6 L752.6,106.8 L753.5,107 L754.5,107.3 L755.4,107.5 L756.3,107.8 L757.3,108 L758.2,108.3 L759.2,108.6 L760.1,108.8 L761,109.1 L762,109.3 L762.9,109.6 L763.8,109.9 L764.8,110.1 L765.7,110.4 L766.6,110.7 L767.6,111 L768.5,111.2 L769.5,111.5 L770.4,111.8 L771.3,112.1 L772.3,112.4 L773.2,112.7 L774.1,113 L775.1,113.3 L776,113.6 L777,113.9 L777.9,114.2 L778.8,114.5 L779.8,114.8 L780.7,115.1 L781.6,115.4 L782.6,115.7 L783.5,116.1 L784.5,116.4 L785.4,116.7 L786.3,117 L787.3,117.4 L788.2,117.7 L789.1,118 L790.1,118.4 L791,118.7 L792,119.1 L792.9,119.4 L793.8,119.8 L794.8,120.1 L795.7,120.5 L796.6,120.8 L797.6,121.2 L798.5,121.6 L799.5,121.9 L800.4,122.3 L801.3,122.7 L802.3,123.1 L803.2,123.4 L804.1,123.8 L805.1,124.2 L806,124.6 L806.9,125 L807.9,125.4 L808.8,125.8 L809.8,126.2 L810.7,126.6 L811.6,127 L812.6,127.5 L813.5,127.9 L814.4,128.3 L815.4,128.7 L816.3,129.2 L817.3,129.6 L818.2,130 L819.1,130.5 L820.1,130.9 L821,131.4 L821.9,131.8 L822.9,132.3 L823.8,132.7 L824.8,133.2 L825.7,133.7 L826.6,134.1 L827.6,134.6 L828.5,135.1 L829.4,135.6 L830.4,136.1 L831.3,136.6 L832.3,137.1 L833.2,137.6 L834.1,138.1 L835.1,138.6 L836,139.1 L836.9,139.6 L837.9,140.1 L838.8,140.6 L839.8,141.2 L840.7,141.7 L841.6,142.3 L842.6,142.8 L843.5,143.3 L844.4,143.9 L845.4,144.5 L846.3,145 L847.2,145.6 L848.2,146.1 L849.1,146.7 L850.1,147.3 L851,147.9 L851.9,148.5 L852.9,149.1 L853.8,149.7 L854.7,150.3 L855.7,150.9 L856.6,151.5 L857.6,152.1 L858.5,152.7 L859.4,153.4 L860.4,154 L861.3,154.6 L862.2,155.3 L863.2,155.9 L864.1,156.6 L865.1,157.2 L866,157.9 L866.9,158.5 L867.9,159.2 L868.8,159.9 L869.7,160.6 L870.7,161.2 L871.6,161.9 L872.6,162.6 L873.5,163.3 L874.4,164 L875.4,164.7 L876.3,165.5 L877.2,166.2 L878.2,166.9 L879.1,167.6 L880.1,168.4 L881,169.1 L881.9,169.8 L882.9,170.6 L883.8,171.4 L884.7,172.1 L885.7,172.9 L886.6,173.6 L887.6,174.4 L888.5,175.2 L889.4,176 L890.4,176.8 L891.3,177.6 L892.2,178.4 L893.2,179.2 L894.1,180 L895,180.8 L896,181.6 L896.9,182.4 L897.9,183.3 L898.8,184.1 L899.7,185 L900.7,185.8 L901.6,186.6 L902.5,187.5 L903.5,188.4 L904.4,189.2 L905.4,190.1 L906.3,191 L907.2,191.8 L908.2,192.7 L909.1,193.6 L910,194.5 L911,195.4 L911.9,196.3 L912.9,197.2 L913.8,198.1 L914.7,199 L915.7,200 L916.6,200.9 L917.5,201.8 L918.5,202.8 L919.4,203.7 L920.4,204.6 L921.3,205.6 L922.2,206.5 L923.2,207.5 L924.1,208.5 L925,209.4 L926,210.4 L926.9,211.4 L927.9,212.3 L928.8,213.3 L929.7,214.3 L930.7,215.3 L931.6,216.3 L932.5,217.3 L933.5,218.3 L934.4,219.3 L935.3,220.3 L936.3,221.3 L937.2,222.4 L938.2,223.4 L939.1,224.4 L940,225.4 L941,226.5 L941.9,227.5 L942.8,228.6 L943.8,229.6 L944.7,230.7 L945.7,231.7 L946.6,232.8 L947.5,233.8 L948.5,234.9 L949.4,236 L950.3,237 L951.3,238.1 L952.2,239.2 L953.2,240.3 L954.1,241.4 L955,242.5 L956,243.5 L956.9,244.6 L957.8,245.7 L958.8,246.8 L959.7,247.9 L960.7,249.1 L961.6,250.2 L962.5,251.3 L963.5,252.4 L964.4,253.5 L965.3,254.6 L966.3,255.8 L967.2,256.9 L968.2,258 L969.1,259.2 L970,260.3 L971,261.5 L971.9,262.6 L972.8,263.7 L973.8,264.9 L974.7,266 L975.6,267.2 L976.6,268.4 L977.5,269.5 L978.5,270.7 L979.4,271.8 L980.3,273 L981.3,274.2 L982.2,275.4 L983.1,276.5 L984.1,277.7 L985,278.9 L986,280.1 L986.9,281.3 L987.8,282.4 L988.8,283.6 L989.7,284.8 L990.6,286 L991.6,287.2 L992.5,288.4 L993.5,289.6 L994.4,290.8 L995.3,292 L996.3,293.2 L997.2,294.4 L998.1,295.6 L999.1,296.9 L1000,298.1 L1001,299.3 L1001.9,300.5 L1002.8,301.7 L1003.8,302.9 L1004.7,304.2 L1005.6,305.4 L1006.6,306.6 L1007.5,307.9 L1008.5,309.1 L1009.4,310.3 L1010.3,311.6 L1011.3,312.8 L1012.2,314 L1013.1,315.3 L1014.1,316.5 L1015,317.7 L1015.9,319 L1016.9,320.2 L1017.8,321.5 L1018.8,322.7 L1019.7,324 L1020.6,325.2 L1021.6,326.5 L1022.5,327.7 L1023.4,329 L1024.4,330.3 L1025.3,331.5 L1026.3,332.8 L1027.2,334 L1028.1,335.3 L1029.1,336.6 L1030,337.8 L1030.9,339.1 L1031.9,340.4 L1032.8,341.6 L1033.8,342.9 L1034.7,344.2 L1035.6,345.4 L1036.6,346.7 L1037.5,348 L1038.4,349.3 L1039.4,350.5 L1040.3,351.8 L1041.3,353.1 L1042.2,354.4 L1043.1,355.7 L1044.1,356.9 L1045,358.2 L1045.9,359.5 L1046.9,360.8 L1047.8,362.1 L1048.8,363.4 L1049.7,364.7 L1050.6,366 L1051.6,367.3 L1052.5,368.5 L1053.4,369.8 L1054.4,371.1 L1055.3,372.4 L1056.3,373.7 L1057.2,375 L1058.1,376.3 L1059.1,377.6 L1060,378.9 L1060.9,380.2 L1061.9,381.5 L1062.8,382.8 L1063.7,384.1 L1064.7,385.4 L1065.6,386.7 L1066.6,388 L1067.5,389.3 L1068.4,390.6 L1069.4,392 L1070.3,393.3 L1071.2,394.6 L1072.2,395.9 L1073.1,397.2 L1074.1,398.5 L1075,399.8 L1075.9,401.1 L1076.9,402.4 L1077.8,403.8 L1078.7,405.1 L1079.7,406.4 L1080.6,407.7 L1081.6,409 L1082.5,410.3 L1083.4,411.6 L1084.4,413 L1085.3,414.3 L1086.2,415.6 L1087.2,416.9 L1088.1,418.2 L1089.1,419.6 L1090,420.9 L1090.9,422.2 L1091.9,423.5 L1092.8,424.9 L1093.7,426.2 L1094.7,427.5 L1095.6,428.8 L1096.6,430.2 L1097.5,431.5 L1098.4,432.8 L1099.4,434.1 L1100.3,435.5 L1101.2,436.8 L1102.2,438.1 L1103.1,439.5 L1104,440.8 L1105,442.1 L1105.9,443.5 L1106.9,444.8 L1107.8,446.1 L1108.7,447.4 L1109.7,448.8 L1110.6,450.1 L1111.5,451.5 L1112.5,452.8 L1113.4,454.1 L1114.4,455.5 L1115.3,456.8 L1116.2,458.1 L1117.2,459.5 L1118.1,460.8 L1119,462.1 L1120,463.5 L1120.9,464.8 L1121.9,466.2 L1122.8,467.5 L1123.7,468.8 L1124.7,470.2 L1125.6,471.5 L1126.5,472.9 L1127.5,474.2 L1128.4,475.5 L1129.4,476.9 L1130.3,478.2 L1131.2,479.6 L1132.2,480.9 L1133.1,482.2 L1134,483.6 L1135,484.9 L1135.9,486.3 L1136.9,487.6 L1137.8,489 L1138.7,490.3 L1139.7,491.7 L1140.6,493 L1141.5,494.3 L1142.5,495.7 L1143.4,497 L1144.3,498.4 L1145.3,499.7 L1146.2,501.1 L1147.2,502.4 L1148.1,503.8 L1149,505.1 L1150,506.5 L1150.9,507.8 L1151.8,509.2 L1152.8,510.5 L1153.7,511.9 L1154.7,513.2 L1155.6,514.6 L1156.5,515.9 L1157.5,517.3 L1158.4,518.6 L1159.3,520 L1160.3,521.3 L1161.2,522.7 L1162.2,524 L1163.1,525.4 L1164,526.7 L1165,528.1 L1165.9,529.4 L1166.8,530.8 L1167.8,532.1 L1168.7,533.5 L1169.7,534.9 L1170.6,536.2 L1171.5,537.6 L1172.5,538.9 L1173.4,540.3 L1174.3,541.6 L1175.3,543 L1176.2,544.3 L1177.2,545.7 L1178.1,547 L1179,548.4 L1180,549.8 L1180.9,551.1 L1181.8,552.5 L1182.8,553.8 L1183.7,555.2 L1184.7,556.5 L1185.6,557.9 L1186.5,559.3 L1187.5,560.6 L1188.4,562 L1189.3,563.3 L1190.3,564.7 L1191.2,566 L1192.1,567.4 L1193.1,568.8 L1194,570.1 L1195,571.5 L1195.9,572.8 L1196.8,574.2 L1197.8,575.6 L1198.7,576.9 L1199.6,578.3 L1200.6,579.6 L1201.5,581 L1202.5,582.4 L1203.4,583.7 L1204.3,585.1 L1205.3,586.4 L1206.2,587.8 L1207.1,589.2 L1208.1,590.5 L1209,591.9 L1210,593.2 L1210.9,594.6 L1211.8,596 L1212.8,597.3 L1213.7,598.7 L1214.6,600.1 L1215.6,601.4 L1216.5,602.8 L1217.5,604.1 L1218.4,605.5 L1219.3,606.9 L1220.3,608.2 L1221.2,609.6 L1222.1,611 L1223.1,612.3 L1224,613.7 L1225,615 L1225.9,616.4 L1226.8,617.8 L1227.8,619.1 L1228.7,620.5 L1229.6,621.9 L1230.6,623.2 L1231.5,624.6 L1232.4,626 L1233.4,627.3 L1234.3,628.7 L1235.3,630.1 L1236.2,631.4 L1237.1,632.8 L1238.1,634.2 L1239,635.5 L1239.9,636.9 L1240.9,638.2 L1241.8,639.6 L1242.8,641 L1243.7,642.3 L1244.6,643.7 L1245.6,645.1 L1246.5,646.4 L1247.4,647.8 L1248.4,649.2 L1249.3,650.5 L1250.3,651.9 L1251.2,653.3 L1252.1,654.6 L1253.1,656 L1254,657.4 L1254.9,658.7 L1255.9,660.1 L1256.8,661.5 L1257.8,662.8 L1258.7,664.2 L1259.6,665.6 L1260.6,666.9 L1261.5,668.3 L1262.4,669.7 L1263.4,671 L1264.3,672.4 L1265.3,673.8 L1266.2,675.2 L1267.1,676.5 L1268.1,677.9 L1269,679.3 L1269.9,680.6 L1270.9,682 L1271.8,683.4 L1272.7,684.7 L1273.7,686.1 L1274.6,687.5 L1275.6,688.8 L1276.5,690.2 L1277.4,691.6 L1278.4,692.9 L1279.3,694.3 L1280.2,695.7 L1281.2,697 L1282.1,698.4 L1283.1,699.8 L1284,701.2 L1284.9,702.5 L1285.9,703.9 L1286.8,705.3 L1287.7,706.6 L1288.7,708 L1289.6,709.4 L1290.6,710.7 L1291.5,712.1 L1292.4,713.5 L1293.4,714.9 L1294.3,716.2 L1295.2,717.6 L1296.2,719 L1297.1,720.3 L1298.1,721.7 L1299,723.1 L1299.9,724.4 L1300.9,725.8 L1301.8,727.2 L1302.7,728.6 L1303.7,729.9 L1304.6,731.3 L1305.6,732.7 L1306.5,734 L1307.4,735.4 L1308.4,736.8 L1309.3,738.1 L1310.2,739.5 L1311.2,740.9 L1312.1,742.3 L1313.1,743.6 L1314,745 L1314.9,746.4 L1315.9,747.7 L1316.8,749.1 L1317.7,750.5 L1318.7,751.9 L1319.6,753.2 L1320.5,754.6 L1321.5,756 L1322.4,757.3 L1323.4,758.7 L1324.3,760.1 L1325.2,761.5 L1326.2,762.8 L1327.1,764.2 L1328,765.6 L1329,766.9 L1329.9,768.3 L1330.9,769.7 L1331.8,771.1 L1332.7,772.4 L1333.7,773.8 L1334.6,775.2 L1335.5,776.6 L1336.5,777.9 L1337.4,779.3 L1338.4,780.7 L1339.3,782 L1340.2,783.4 L1341.2,784.8 L1342.1,786.2 L1343,787.5 L1344,788.9 L1344.9,790.3 L1345.9,791.6 L1346.8,793 L1347.7,794.4 L1348.7,795.8 L1349.6,797.1 L1350.5,798.5 L1351.5,799.9 L1352.4,801.3 L1353.4,802.6 L1354.3,804 L1355.2,805.4 L1356.2,806.7 L1357.1,808.1 L1358,809.5 L1359,810.9 L1359.9,812.2 L1360.8,813.6 L1361.8,815 L1362.7,816.4 L1363.7,817.7 L1364.6,819.1 L1365.5,820.5 L1366.5,821.8 L1367.4,823.2 L1368.3,824.6 L1369.3,826 L1370.2,827.3 L1371.2,828.7 L1372.1,830.1 L1373,831.5 L1374,832.8 L1374.9,834.2 L1375.8,835.6 L1376.8,837 L1377.7,838.3 L1378.7,839.7 L1379.6,841.1 L1380.5,842.4 L1381.5,843.8 L1382.4,845.2 L1383.3,846.6 L1384.3,847.9 L1385.2,849.3 L1386.2,850.7 L1387.1,852.1 L1388,853.4 L1389,854.8 L1389.9,856.2 L1390.8,857.6 L1391.8,858.9 L1392.7,860.3 L1393.7,861.7 L1394.6,863.1 L1395.5,864.4 L1396.5,865.8 L1397.4,867.2 L1398.3,868.5 L1399.3,869.9 L1400.2,871.3 L1401.1,872.7 L1402.1,874 L1403,875.4 L1404,876.8 L1404.9,878.2 L1405.8,879.5 L1406.8,880.9 L1407.7,882.3 L1408.6,883.7 L1409.6,885 L1410.5,886.4 L1411.5,887.8 L1412.4,889.2 L1413.3,890.5 L1414.3,891.9 L1415.2,893.3 L1416.1,894.7 L1417.1,896 L1418,897.4 L1419,898.8 L1419.9,900.2 L1420.8,901.5 L1421.8,902.9 L1422.7,904.3 L1423.6,905.7 L1424.6,907 L1425.5,908.4 L1426.5,909.8 L1427.4,911.2 L1428.3,912.5 L1429.3,913.9 L1430.2,915.3 L1431.1,916.6 L1432.1,918 L1433,919.4 L1434,920.8 L1434.9,922.1 L1435.8,923.5 L1436.8,924.9 L1437.7,926.3 L1438.6,927.6 L1439.6,929 L1440.5,930.4 L1441.4,931.8 L1442.4,933.1 L1443.3,934.5 L1444.3,935.9 L1445.2,937.3 L1446.1,938.6 L1447.1,940 L1448,941.4 L1448.9,942.8 L1449.9,944.1 L1450.8,945.5 L1451.8,946.9 L1452.7,948.3 L1453.6,949.6 L1454.6,951 L1455.5,952.4 L1456.4,953.8 L1457.4,955.1 L1458.3,956.5 L1459.3,957.9 L1460.2,959.3 L1461.1,960.6 L1462.1,962 L1463,963.4 L1463.9,964.8" stroke="#ff0000" stroke-width="2.9"/>
<path d="M249.3,62.2 L261.5,87.5 L237.1,87.5 Z M436.6,63.4 L448.8,88.7 L424.4,88.7 Z M623.9,70.6 L636.1,95.9 L611.7,95.9 Z M811.3,110.5 L823.5,135.8 L799.1,135.8 Z M998.6,279.8 L1010.8,305.1 L986.4,305.1 Z M1185.9,542 L1198.1,567.3 L1173.7,567.3 Z M1373.2,815.3 L1385.4,840.6 L1361,840.6 Z" stroke="#ff0000" stroke-width="3" stroke-linejoin="miter"/>
</g>
<path d="M247.8,78.4 H690" stroke="#5e2a2a" stroke-width="3"/>
<path d="M690,78.4 H1655.7" stroke="#262626" stroke-width="3"/>
<path d="M249.3,76.9 V98.4" stroke="#000" stroke-width="3"/>
<rect x="311" y="501" width="343" height="405" fill="#fff"/>
<path d="M311.2,501.6 H651.6" stroke="#787878" stroke-width="2.6"/>
<path d="M312.6,500.5 V906" stroke="#4a4a4a" stroke-width="2.8"/>
<path d="M311.2,904.9 H651.8" stroke="#555" stroke-width="2.6"/>
<path d="M652.9,505 V904" stroke="#b4b4b4" stroke-width="2.6"/>
<path d="M323,543.2 H386" stroke="#ff2e2e" stroke-width="4.6" fill="none"/>
<path d="M354.7,530.7 L364.7,550.2 L344.7,550.2 Z" stroke="#ff0000" stroke-width="3.2" fill="none" stroke-linejoin="miter"/>
<text x="393.8" y="554.8" textLength="75.9" lengthAdjust="spacingAndGlyphs">IIR4</text>
<path d="M323,624.2 H386" stroke="#178a2e" stroke-width="4.6" fill="none"/>
<path d="M342,611.5 h25.4 v25.4 h-25.4 Z" stroke="#008000" stroke-width="3.2" fill="none" stroke-linejoin="miter"/>
<text x="393.2" y="636" textLength="79.8" lengthAdjust="spacingAndGlyphs">IIR6</text>
<path d="M323,704.7 H386" stroke="#2e2eff" stroke-width="4.6" fill="none"/>
<path d="M354.7,692.2 L363.2,704.7 L354.7,717.2 L346.2,704.7 Z" stroke="#0000ff" stroke-width="3.2" fill="none" stroke-linejoin="miter"/>
<text x="393.2" y="715.5" textLength="79.8" lengthAdjust="spacingAndGlyphs">IIR8</text>
<path d="M323,785.3 H386" stroke="#a82a2a" stroke-width="4.6" fill="none"/>
<path d="M344.7,772.8 H364.7 L344.7,797.8 H364.7 Z" stroke="#a00000" stroke-width="3.2" fill="none" stroke-linejoin="miter"/>
<text x="393.2" y="797.5" textLength="103.9" lengthAdjust="spacingAndGlyphs">IIR10</text>
<path d="M325.5,864.6 H386" stroke="#3a3a3a" stroke-width="2.6" fill="none"/>
<path d="M344.7,858.6 L364.7,858.6 L354.7,877.6 Z" stroke="#000000" stroke-width="3.2" fill="none" stroke-linejoin="miter"/>
<text x="393.4" y="877.2" textLength="232.9" lengthAdjust="spacingAndGlyphs">Rectangular</text>
<text x="201" y="99" text-anchor="end">0</text>
<text x="201" y="185.1" text-anchor="end">-10</text>
<text x="201" y="271.5" text-anchor="end">-20</text>
<text x="201" y="357.6" text-anchor="end">-30</text>
<text x="201" y="443.9" text-anchor="end">-40</text>
<text x="201" y="528" text-anchor="end">-50</text>
<text x="201" y="614.2" text-anchor="end">-60</text>
<text x="201" y="700.7" text-anchor="end">-70</text>
<text x="201" y="787" text-anchor="end">-80</text>
<text x="201" y="872.7" text-anchor="end">-90</text>
<text x="201" y="957.2" text-anchor="end">-100</text>
<text x="249.3" y="1021.3" text-anchor="middle">1</text>
<text x="718.8" y="1021.3" text-anchor="middle">10</text>
<text x="1186.8" y="1021.3" text-anchor="middle">100</text>
<text x="1656.5" y="1021.3" text-anchor="middle">1000</text>
<text x="800.8" y="1078.7" textLength="301.1" lengthAdjust="spacingAndGlyphs">Frequency (Hz)</text>
<text transform="translate(63.4,603.0) rotate(-90)" textLength="192.2" lengthAdjust="spacingAndGlyphs">Gain (dB)</text>
<text class="title" x="762.4" y="54.2" textLength="378.5" lengthAdjust="spacingAndGlyphs">IIR  Filters Gain</text>
</svg>
</body></html>
